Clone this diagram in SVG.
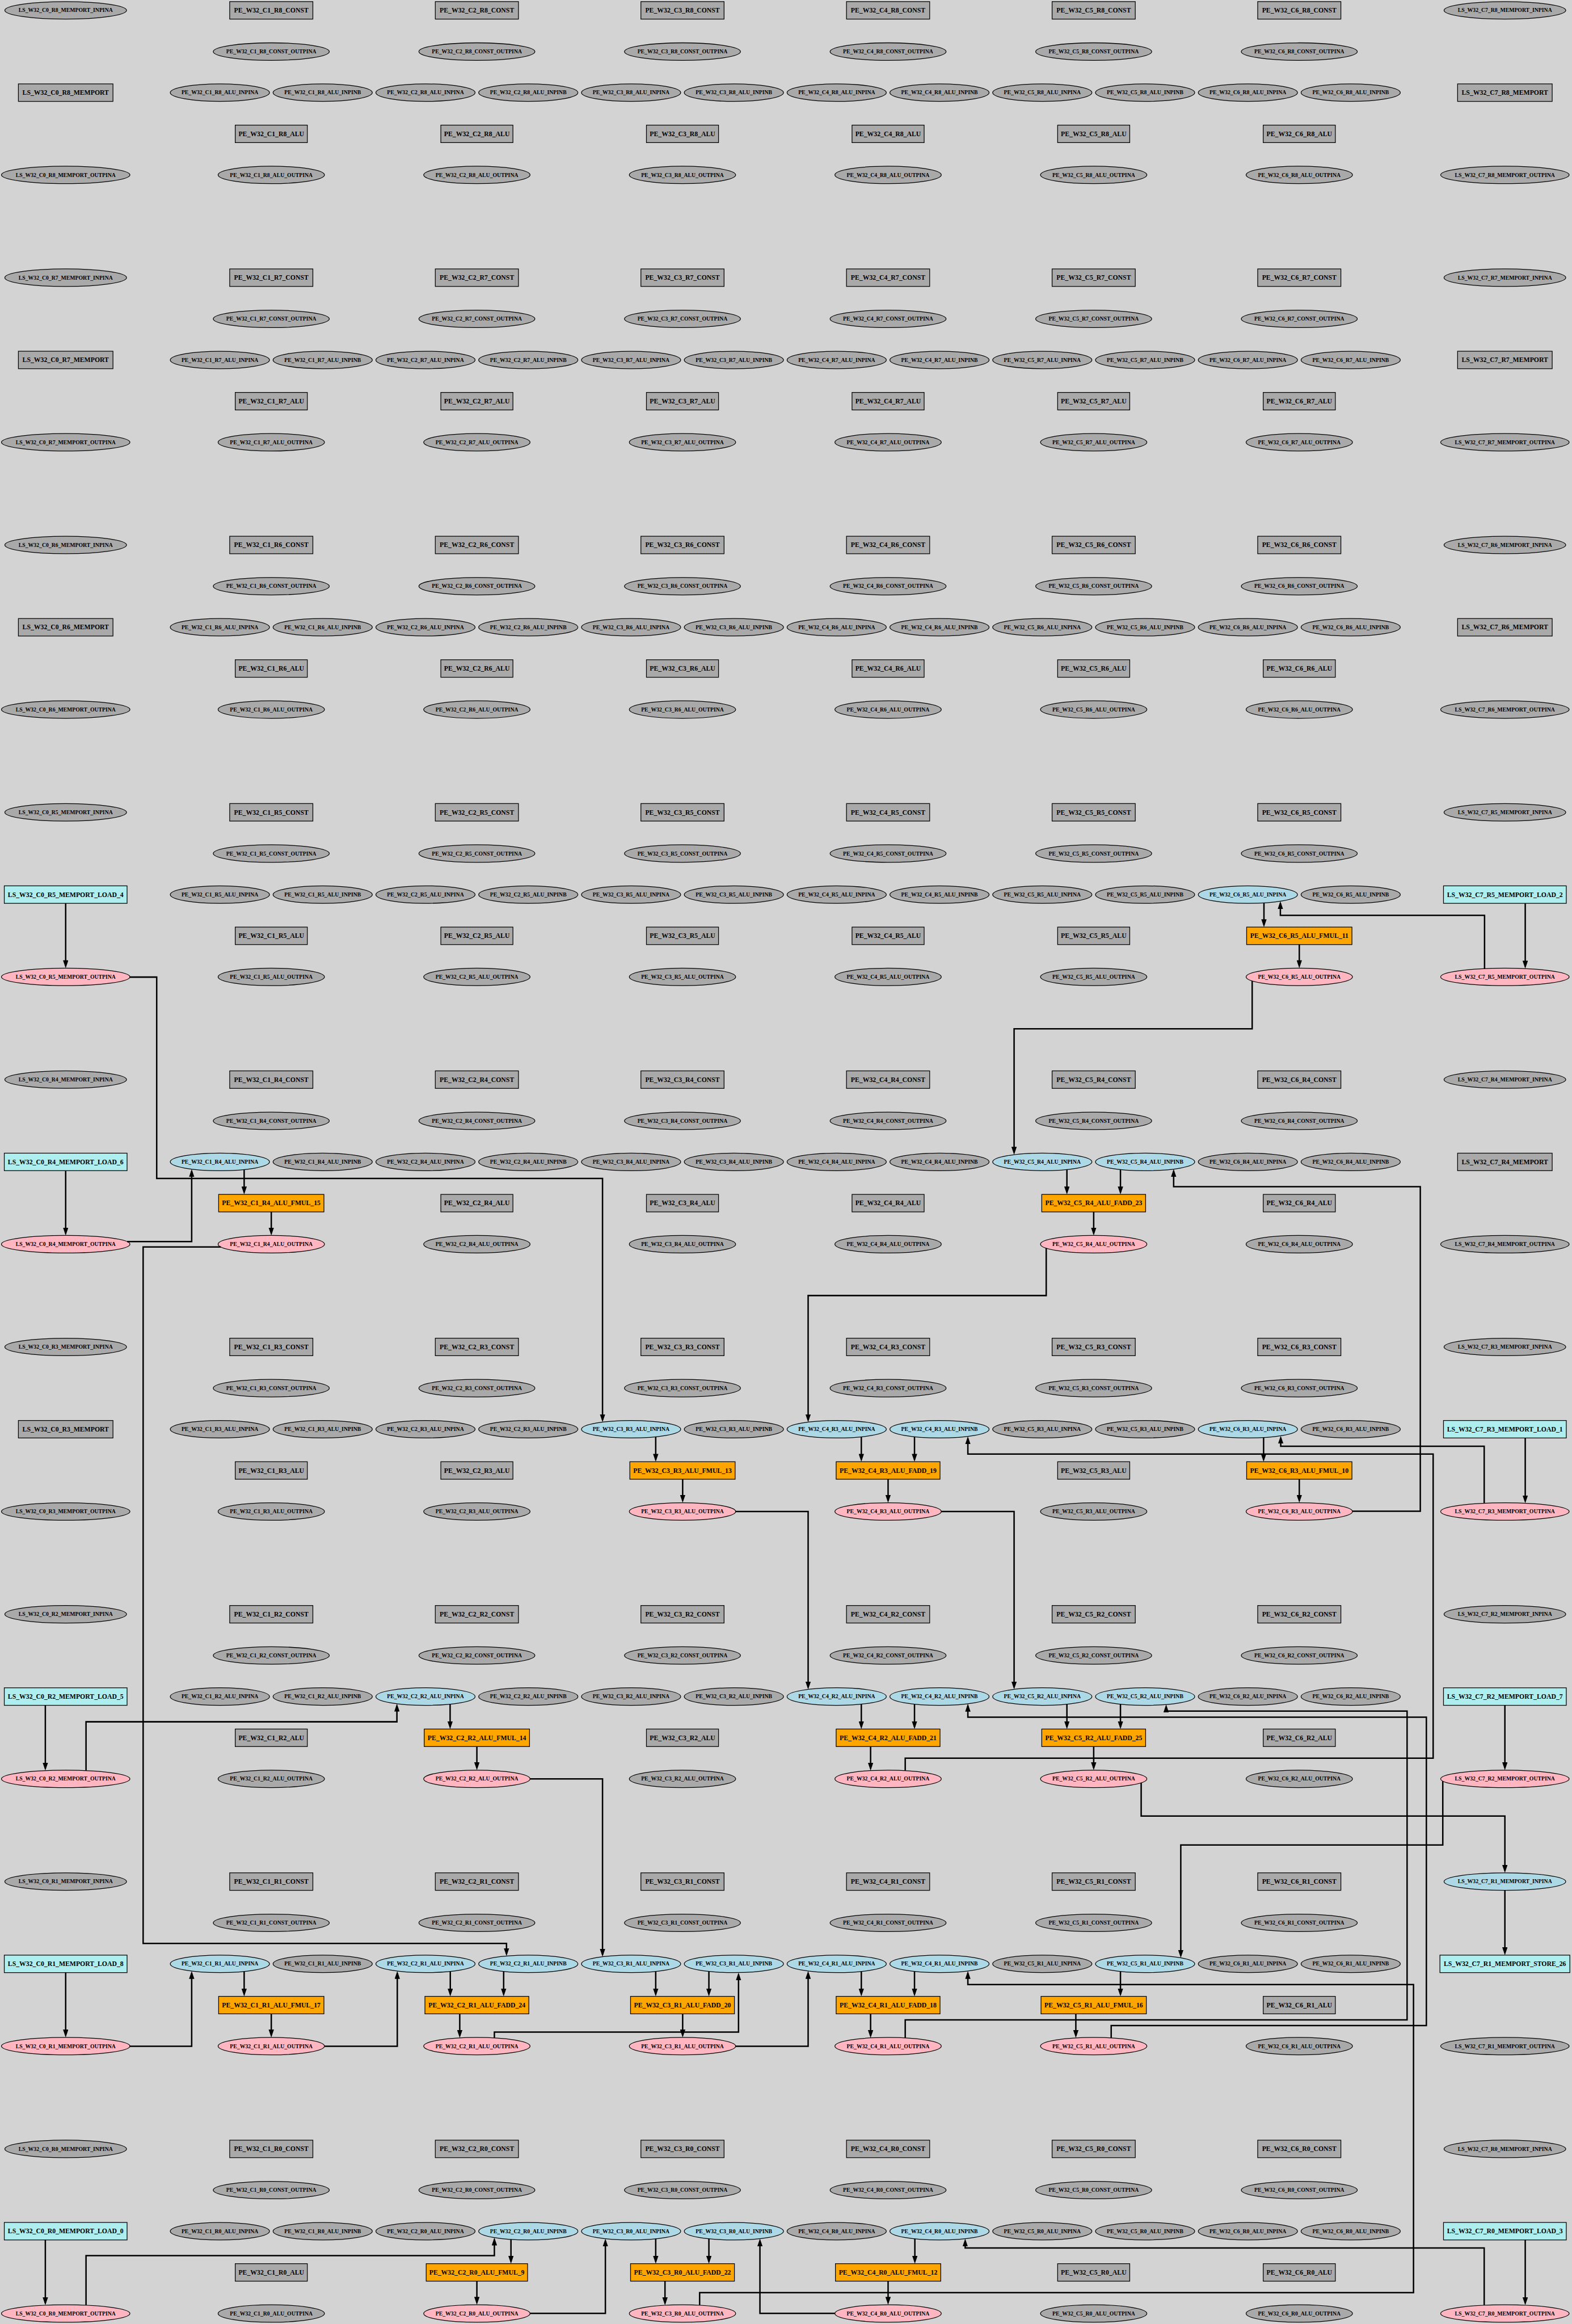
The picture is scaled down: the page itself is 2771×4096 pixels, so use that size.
<svg xmlns="http://www.w3.org/2000/svg" width="2771" height="4096" viewBox="0 0 2771 4096">
<style>
.bg{fill:#d3d3d3;stroke:none}
.g{fill:#a9a9a9}.b{fill:#add8e6}.p{fill:#ffb6c1}.o{fill:#ffa500}.c{fill:#afeeee}
rect,ellipse{stroke:#000;stroke-width:2}
text{font-family:"Liberation Serif","Times New Roman",serif;font-weight:bold;text-anchor:middle;fill:#000}
.t{font-size:18.7px}.s{font-size:15.5px}
.e{fill:none;stroke:#000;stroke-width:4;marker-end:url(#a)}
</style>
<defs>
<marker id="a" viewBox="0 0 22 15" refX="16" refY="7.5" markerWidth="22" markerHeight="15" markerUnits="userSpaceOnUse" orient="auto"><path d="M0,0L22,7.5L0,15z" fill="#000"/></marker>
</defs>
<rect class="bg" x="0" y="0" width="2771" height="4096"/>
<g transform="scale(0.6292)">
<g id="nodes">
<g id="R8" transform="translate(0,0)">
<g id="LS_W32_C0_R8_MEMPORT_INPINA"><ellipse class="g" cx="184" cy="29" rx="170.5" ry="24.5"/><text class="s" x="184" y="34.1">LS_W32_C0_R8_MEMPORT_INPINA</text></g>
<g id="PE_W32_C1_R8_CONST"><rect class="g" x="643.5" y="4.5" width="233" height="49"/><text class="t" x="760" y="35.2">PE_W32_C1_R8_CONST</text></g>
<g id="PE_W32_C2_R8_CONST"><rect class="g" x="1219.5" y="4.5" width="233" height="49"/><text class="t" x="1336" y="35.2">PE_W32_C2_R8_CONST</text></g>
<g id="PE_W32_C3_R8_CONST"><rect class="g" x="1795.5" y="4.5" width="233" height="49"/><text class="t" x="1912" y="35.2">PE_W32_C3_R8_CONST</text></g>
<g id="PE_W32_C4_R8_CONST"><rect class="g" x="2371.5" y="4.5" width="233" height="49"/><text class="t" x="2488" y="35.2">PE_W32_C4_R8_CONST</text></g>
<g id="PE_W32_C5_R8_CONST"><rect class="g" x="2947.5" y="4.5" width="233" height="49"/><text class="t" x="3064" y="35.2">PE_W32_C5_R8_CONST</text></g>
<g id="PE_W32_C6_R8_CONST"><rect class="g" x="3523.5" y="4.5" width="233" height="49"/><text class="t" x="3640" y="35.2">PE_W32_C6_R8_CONST</text></g>
<g id="LS_W32_C7_R8_MEMPORT_INPINA"><ellipse class="g" cx="4216" cy="29" rx="170.5" ry="24.5"/><text class="s" x="4216" y="34.1">LS_W32_C7_R8_MEMPORT_INPINA</text></g>
<g id="PE_W32_C1_R8_CONST_OUTPINA"><ellipse class="g" cx="760" cy="144.5" rx="162.5" ry="24.5"/><text class="s" x="760" y="149.6">PE_W32_C1_R8_CONST_OUTPINA</text></g>
<g id="PE_W32_C2_R8_CONST_OUTPINA"><ellipse class="g" cx="1336" cy="144.5" rx="162.5" ry="24.5"/><text class="s" x="1336" y="149.6">PE_W32_C2_R8_CONST_OUTPINA</text></g>
<g id="PE_W32_C3_R8_CONST_OUTPINA"><ellipse class="g" cx="1912" cy="144.5" rx="162.5" ry="24.5"/><text class="s" x="1912" y="149.6">PE_W32_C3_R8_CONST_OUTPINA</text></g>
<g id="PE_W32_C4_R8_CONST_OUTPINA"><ellipse class="g" cx="2488" cy="144.5" rx="162.5" ry="24.5"/><text class="s" x="2488" y="149.6">PE_W32_C4_R8_CONST_OUTPINA</text></g>
<g id="PE_W32_C5_R8_CONST_OUTPINA"><ellipse class="g" cx="3064" cy="144.5" rx="162.5" ry="24.5"/><text class="s" x="3064" y="149.6">PE_W32_C5_R8_CONST_OUTPINA</text></g>
<g id="PE_W32_C6_R8_CONST_OUTPINA"><ellipse class="g" cx="3640" cy="144.5" rx="162.5" ry="24.5"/><text class="s" x="3640" y="149.6">PE_W32_C6_R8_CONST_OUTPINA</text></g>
<g id="LS_W32_C0_R8_MEMPORT"><rect class="g" x="51.5" y="235" width="265" height="49"/><text class="t" x="184" y="265.7">LS_W32_C0_R8_MEMPORT</text></g>
<g id="PE_W32_C1_R8_ALU_INPINA"><ellipse class="g" cx="616" cy="259.5" rx="139" ry="24.5"/><text class="s" x="616" y="264.6">PE_W32_C1_R8_ALU_INPINA</text></g>
<g id="PE_W32_C1_R8_ALU_INPINB"><ellipse class="g" cx="904" cy="259.5" rx="139" ry="24.5"/><text class="s" x="904" y="264.6">PE_W32_C1_R8_ALU_INPINB</text></g>
<g id="PE_W32_C2_R8_ALU_INPINA"><ellipse class="g" cx="1192" cy="259.5" rx="139" ry="24.5"/><text class="s" x="1192" y="264.6">PE_W32_C2_R8_ALU_INPINA</text></g>
<g id="PE_W32_C2_R8_ALU_INPINB"><ellipse class="g" cx="1480" cy="259.5" rx="139" ry="24.5"/><text class="s" x="1480" y="264.6">PE_W32_C2_R8_ALU_INPINB</text></g>
<g id="PE_W32_C3_R8_ALU_INPINA"><ellipse class="g" cx="1768" cy="259.5" rx="139" ry="24.5"/><text class="s" x="1768" y="264.6">PE_W32_C3_R8_ALU_INPINA</text></g>
<g id="PE_W32_C3_R8_ALU_INPINB"><ellipse class="g" cx="2056" cy="259.5" rx="139" ry="24.5"/><text class="s" x="2056" y="264.6">PE_W32_C3_R8_ALU_INPINB</text></g>
<g id="PE_W32_C4_R8_ALU_INPINA"><ellipse class="g" cx="2344" cy="259.5" rx="139" ry="24.5"/><text class="s" x="2344" y="264.6">PE_W32_C4_R8_ALU_INPINA</text></g>
<g id="PE_W32_C4_R8_ALU_INPINB"><ellipse class="g" cx="2632" cy="259.5" rx="139" ry="24.5"/><text class="s" x="2632" y="264.6">PE_W32_C4_R8_ALU_INPINB</text></g>
<g id="PE_W32_C5_R8_ALU_INPINA"><ellipse class="g" cx="2920" cy="259.5" rx="139" ry="24.5"/><text class="s" x="2920" y="264.6">PE_W32_C5_R8_ALU_INPINA</text></g>
<g id="PE_W32_C5_R8_ALU_INPINB"><ellipse class="g" cx="3208" cy="259.5" rx="139" ry="24.5"/><text class="s" x="3208" y="264.6">PE_W32_C5_R8_ALU_INPINB</text></g>
<g id="PE_W32_C6_R8_ALU_INPINA"><ellipse class="g" cx="3496" cy="259.5" rx="139" ry="24.5"/><text class="s" x="3496" y="264.6">PE_W32_C6_R8_ALU_INPINA</text></g>
<g id="PE_W32_C6_R8_ALU_INPINB"><ellipse class="g" cx="3784" cy="259.5" rx="139" ry="24.5"/><text class="s" x="3784" y="264.6">PE_W32_C6_R8_ALU_INPINB</text></g>
<g id="LS_W32_C7_R8_MEMPORT"><rect class="g" x="4083.5" y="235" width="265" height="49"/><text class="t" x="4216" y="265.7">LS_W32_C7_R8_MEMPORT</text></g>
<g id="PE_W32_C1_R8_ALU"><rect class="g" x="659" y="350.5" width="202" height="49"/><text class="t" x="760" y="381.2">PE_W32_C1_R8_ALU</text></g>
<g id="PE_W32_C2_R8_ALU"><rect class="g" x="1235" y="350.5" width="202" height="49"/><text class="t" x="1336" y="381.2">PE_W32_C2_R8_ALU</text></g>
<g id="PE_W32_C3_R8_ALU"><rect class="g" x="1811" y="350.5" width="202" height="49"/><text class="t" x="1912" y="381.2">PE_W32_C3_R8_ALU</text></g>
<g id="PE_W32_C4_R8_ALU"><rect class="g" x="2387" y="350.5" width="202" height="49"/><text class="t" x="2488" y="381.2">PE_W32_C4_R8_ALU</text></g>
<g id="PE_W32_C5_R8_ALU"><rect class="g" x="2963" y="350.5" width="202" height="49"/><text class="t" x="3064" y="381.2">PE_W32_C5_R8_ALU</text></g>
<g id="PE_W32_C6_R8_ALU"><rect class="g" x="3539" y="350.5" width="202" height="49"/><text class="t" x="3640" y="381.2">PE_W32_C6_R8_ALU</text></g>
<g id="LS_W32_C0_R8_MEMPORT_OUTPINA"><ellipse class="g" cx="184" cy="490" rx="180" ry="24.5"/><text class="s" x="184" y="495.1">LS_W32_C0_R8_MEMPORT_OUTPINA</text></g>
<g id="PE_W32_C1_R8_ALU_OUTPINA"><ellipse class="g" cx="760" cy="490" rx="149" ry="24.5"/><text class="s" x="760" y="495.1">PE_W32_C1_R8_ALU_OUTPINA</text></g>
<g id="PE_W32_C2_R8_ALU_OUTPINA"><ellipse class="g" cx="1336" cy="490" rx="149" ry="24.5"/><text class="s" x="1336" y="495.1">PE_W32_C2_R8_ALU_OUTPINA</text></g>
<g id="PE_W32_C3_R8_ALU_OUTPINA"><ellipse class="g" cx="1912" cy="490" rx="149" ry="24.5"/><text class="s" x="1912" y="495.1">PE_W32_C3_R8_ALU_OUTPINA</text></g>
<g id="PE_W32_C4_R8_ALU_OUTPINA"><ellipse class="g" cx="2488" cy="490" rx="149" ry="24.5"/><text class="s" x="2488" y="495.1">PE_W32_C4_R8_ALU_OUTPINA</text></g>
<g id="PE_W32_C5_R8_ALU_OUTPINA"><ellipse class="g" cx="3064" cy="490" rx="149" ry="24.5"/><text class="s" x="3064" y="495.1">PE_W32_C5_R8_ALU_OUTPINA</text></g>
<g id="PE_W32_C6_R8_ALU_OUTPINA"><ellipse class="g" cx="3640" cy="490" rx="149" ry="24.5"/><text class="s" x="3640" y="495.1">PE_W32_C6_R8_ALU_OUTPINA</text></g>
<g id="LS_W32_C7_R8_MEMPORT_OUTPINA"><ellipse class="g" cx="4216" cy="490" rx="180" ry="24.5"/><text class="s" x="4216" y="495.1">LS_W32_C7_R8_MEMPORT_OUTPINA</text></g>
</g>
<g id="R7" transform="translate(0,748.8)">
<g id="LS_W32_C0_R7_MEMPORT_INPINA"><ellipse class="g" cx="184" cy="29" rx="170.5" ry="24.5"/><text class="s" x="184" y="34.1">LS_W32_C0_R7_MEMPORT_INPINA</text></g>
<g id="PE_W32_C1_R7_CONST"><rect class="g" x="643.5" y="4.5" width="233" height="49"/><text class="t" x="760" y="35.2">PE_W32_C1_R7_CONST</text></g>
<g id="PE_W32_C2_R7_CONST"><rect class="g" x="1219.5" y="4.5" width="233" height="49"/><text class="t" x="1336" y="35.2">PE_W32_C2_R7_CONST</text></g>
<g id="PE_W32_C3_R7_CONST"><rect class="g" x="1795.5" y="4.5" width="233" height="49"/><text class="t" x="1912" y="35.2">PE_W32_C3_R7_CONST</text></g>
<g id="PE_W32_C4_R7_CONST"><rect class="g" x="2371.5" y="4.5" width="233" height="49"/><text class="t" x="2488" y="35.2">PE_W32_C4_R7_CONST</text></g>
<g id="PE_W32_C5_R7_CONST"><rect class="g" x="2947.5" y="4.5" width="233" height="49"/><text class="t" x="3064" y="35.2">PE_W32_C5_R7_CONST</text></g>
<g id="PE_W32_C6_R7_CONST"><rect class="g" x="3523.5" y="4.5" width="233" height="49"/><text class="t" x="3640" y="35.2">PE_W32_C6_R7_CONST</text></g>
<g id="LS_W32_C7_R7_MEMPORT_INPINA"><ellipse class="g" cx="4216" cy="29" rx="170.5" ry="24.5"/><text class="s" x="4216" y="34.1">LS_W32_C7_R7_MEMPORT_INPINA</text></g>
<g id="PE_W32_C1_R7_CONST_OUTPINA"><ellipse class="g" cx="760" cy="144.5" rx="162.5" ry="24.5"/><text class="s" x="760" y="149.6">PE_W32_C1_R7_CONST_OUTPINA</text></g>
<g id="PE_W32_C2_R7_CONST_OUTPINA"><ellipse class="g" cx="1336" cy="144.5" rx="162.5" ry="24.5"/><text class="s" x="1336" y="149.6">PE_W32_C2_R7_CONST_OUTPINA</text></g>
<g id="PE_W32_C3_R7_CONST_OUTPINA"><ellipse class="g" cx="1912" cy="144.5" rx="162.5" ry="24.5"/><text class="s" x="1912" y="149.6">PE_W32_C3_R7_CONST_OUTPINA</text></g>
<g id="PE_W32_C4_R7_CONST_OUTPINA"><ellipse class="g" cx="2488" cy="144.5" rx="162.5" ry="24.5"/><text class="s" x="2488" y="149.6">PE_W32_C4_R7_CONST_OUTPINA</text></g>
<g id="PE_W32_C5_R7_CONST_OUTPINA"><ellipse class="g" cx="3064" cy="144.5" rx="162.5" ry="24.5"/><text class="s" x="3064" y="149.6">PE_W32_C5_R7_CONST_OUTPINA</text></g>
<g id="PE_W32_C6_R7_CONST_OUTPINA"><ellipse class="g" cx="3640" cy="144.5" rx="162.5" ry="24.5"/><text class="s" x="3640" y="149.6">PE_W32_C6_R7_CONST_OUTPINA</text></g>
<g id="LS_W32_C0_R7_MEMPORT"><rect class="g" x="51.5" y="235" width="265" height="49"/><text class="t" x="184" y="265.7">LS_W32_C0_R7_MEMPORT</text></g>
<g id="PE_W32_C1_R7_ALU_INPINA"><ellipse class="g" cx="616" cy="259.5" rx="139" ry="24.5"/><text class="s" x="616" y="264.6">PE_W32_C1_R7_ALU_INPINA</text></g>
<g id="PE_W32_C1_R7_ALU_INPINB"><ellipse class="g" cx="904" cy="259.5" rx="139" ry="24.5"/><text class="s" x="904" y="264.6">PE_W32_C1_R7_ALU_INPINB</text></g>
<g id="PE_W32_C2_R7_ALU_INPINA"><ellipse class="g" cx="1192" cy="259.5" rx="139" ry="24.5"/><text class="s" x="1192" y="264.6">PE_W32_C2_R7_ALU_INPINA</text></g>
<g id="PE_W32_C2_R7_ALU_INPINB"><ellipse class="g" cx="1480" cy="259.5" rx="139" ry="24.5"/><text class="s" x="1480" y="264.6">PE_W32_C2_R7_ALU_INPINB</text></g>
<g id="PE_W32_C3_R7_ALU_INPINA"><ellipse class="g" cx="1768" cy="259.5" rx="139" ry="24.5"/><text class="s" x="1768" y="264.6">PE_W32_C3_R7_ALU_INPINA</text></g>
<g id="PE_W32_C3_R7_ALU_INPINB"><ellipse class="g" cx="2056" cy="259.5" rx="139" ry="24.5"/><text class="s" x="2056" y="264.6">PE_W32_C3_R7_ALU_INPINB</text></g>
<g id="PE_W32_C4_R7_ALU_INPINA"><ellipse class="g" cx="2344" cy="259.5" rx="139" ry="24.5"/><text class="s" x="2344" y="264.6">PE_W32_C4_R7_ALU_INPINA</text></g>
<g id="PE_W32_C4_R7_ALU_INPINB"><ellipse class="g" cx="2632" cy="259.5" rx="139" ry="24.5"/><text class="s" x="2632" y="264.6">PE_W32_C4_R7_ALU_INPINB</text></g>
<g id="PE_W32_C5_R7_ALU_INPINA"><ellipse class="g" cx="2920" cy="259.5" rx="139" ry="24.5"/><text class="s" x="2920" y="264.6">PE_W32_C5_R7_ALU_INPINA</text></g>
<g id="PE_W32_C5_R7_ALU_INPINB"><ellipse class="g" cx="3208" cy="259.5" rx="139" ry="24.5"/><text class="s" x="3208" y="264.6">PE_W32_C5_R7_ALU_INPINB</text></g>
<g id="PE_W32_C6_R7_ALU_INPINA"><ellipse class="g" cx="3496" cy="259.5" rx="139" ry="24.5"/><text class="s" x="3496" y="264.6">PE_W32_C6_R7_ALU_INPINA</text></g>
<g id="PE_W32_C6_R7_ALU_INPINB"><ellipse class="g" cx="3784" cy="259.5" rx="139" ry="24.5"/><text class="s" x="3784" y="264.6">PE_W32_C6_R7_ALU_INPINB</text></g>
<g id="LS_W32_C7_R7_MEMPORT"><rect class="g" x="4083.5" y="235" width="265" height="49"/><text class="t" x="4216" y="265.7">LS_W32_C7_R7_MEMPORT</text></g>
<g id="PE_W32_C1_R7_ALU"><rect class="g" x="659" y="350.5" width="202" height="49"/><text class="t" x="760" y="381.2">PE_W32_C1_R7_ALU</text></g>
<g id="PE_W32_C2_R7_ALU"><rect class="g" x="1235" y="350.5" width="202" height="49"/><text class="t" x="1336" y="381.2">PE_W32_C2_R7_ALU</text></g>
<g id="PE_W32_C3_R7_ALU"><rect class="g" x="1811" y="350.5" width="202" height="49"/><text class="t" x="1912" y="381.2">PE_W32_C3_R7_ALU</text></g>
<g id="PE_W32_C4_R7_ALU"><rect class="g" x="2387" y="350.5" width="202" height="49"/><text class="t" x="2488" y="381.2">PE_W32_C4_R7_ALU</text></g>
<g id="PE_W32_C5_R7_ALU"><rect class="g" x="2963" y="350.5" width="202" height="49"/><text class="t" x="3064" y="381.2">PE_W32_C5_R7_ALU</text></g>
<g id="PE_W32_C6_R7_ALU"><rect class="g" x="3539" y="350.5" width="202" height="49"/><text class="t" x="3640" y="381.2">PE_W32_C6_R7_ALU</text></g>
<g id="LS_W32_C0_R7_MEMPORT_OUTPINA"><ellipse class="g" cx="184" cy="490" rx="180" ry="24.5"/><text class="s" x="184" y="495.1">LS_W32_C0_R7_MEMPORT_OUTPINA</text></g>
<g id="PE_W32_C1_R7_ALU_OUTPINA"><ellipse class="g" cx="760" cy="490" rx="149" ry="24.5"/><text class="s" x="760" y="495.1">PE_W32_C1_R7_ALU_OUTPINA</text></g>
<g id="PE_W32_C2_R7_ALU_OUTPINA"><ellipse class="g" cx="1336" cy="490" rx="149" ry="24.5"/><text class="s" x="1336" y="495.1">PE_W32_C2_R7_ALU_OUTPINA</text></g>
<g id="PE_W32_C3_R7_ALU_OUTPINA"><ellipse class="g" cx="1912" cy="490" rx="149" ry="24.5"/><text class="s" x="1912" y="495.1">PE_W32_C3_R7_ALU_OUTPINA</text></g>
<g id="PE_W32_C4_R7_ALU_OUTPINA"><ellipse class="g" cx="2488" cy="490" rx="149" ry="24.5"/><text class="s" x="2488" y="495.1">PE_W32_C4_R7_ALU_OUTPINA</text></g>
<g id="PE_W32_C5_R7_ALU_OUTPINA"><ellipse class="g" cx="3064" cy="490" rx="149" ry="24.5"/><text class="s" x="3064" y="495.1">PE_W32_C5_R7_ALU_OUTPINA</text></g>
<g id="PE_W32_C6_R7_ALU_OUTPINA"><ellipse class="g" cx="3640" cy="490" rx="149" ry="24.5"/><text class="s" x="3640" y="495.1">PE_W32_C6_R7_ALU_OUTPINA</text></g>
<g id="LS_W32_C7_R7_MEMPORT_OUTPINA"><ellipse class="g" cx="4216" cy="490" rx="180" ry="24.5"/><text class="s" x="4216" y="495.1">LS_W32_C7_R7_MEMPORT_OUTPINA</text></g>
</g>
<g id="R6" transform="translate(0,1497.6)">
<g id="LS_W32_C0_R6_MEMPORT_INPINA"><ellipse class="g" cx="184" cy="29" rx="170.5" ry="24.5"/><text class="s" x="184" y="34.1">LS_W32_C0_R6_MEMPORT_INPINA</text></g>
<g id="PE_W32_C1_R6_CONST"><rect class="g" x="643.5" y="4.5" width="233" height="49"/><text class="t" x="760" y="35.2">PE_W32_C1_R6_CONST</text></g>
<g id="PE_W32_C2_R6_CONST"><rect class="g" x="1219.5" y="4.5" width="233" height="49"/><text class="t" x="1336" y="35.2">PE_W32_C2_R6_CONST</text></g>
<g id="PE_W32_C3_R6_CONST"><rect class="g" x="1795.5" y="4.5" width="233" height="49"/><text class="t" x="1912" y="35.2">PE_W32_C3_R6_CONST</text></g>
<g id="PE_W32_C4_R6_CONST"><rect class="g" x="2371.5" y="4.5" width="233" height="49"/><text class="t" x="2488" y="35.2">PE_W32_C4_R6_CONST</text></g>
<g id="PE_W32_C5_R6_CONST"><rect class="g" x="2947.5" y="4.5" width="233" height="49"/><text class="t" x="3064" y="35.2">PE_W32_C5_R6_CONST</text></g>
<g id="PE_W32_C6_R6_CONST"><rect class="g" x="3523.5" y="4.5" width="233" height="49"/><text class="t" x="3640" y="35.2">PE_W32_C6_R6_CONST</text></g>
<g id="LS_W32_C7_R6_MEMPORT_INPINA"><ellipse class="g" cx="4216" cy="29" rx="170.5" ry="24.5"/><text class="s" x="4216" y="34.1">LS_W32_C7_R6_MEMPORT_INPINA</text></g>
<g id="PE_W32_C1_R6_CONST_OUTPINA"><ellipse class="g" cx="760" cy="144.5" rx="162.5" ry="24.5"/><text class="s" x="760" y="149.6">PE_W32_C1_R6_CONST_OUTPINA</text></g>
<g id="PE_W32_C2_R6_CONST_OUTPINA"><ellipse class="g" cx="1336" cy="144.5" rx="162.5" ry="24.5"/><text class="s" x="1336" y="149.6">PE_W32_C2_R6_CONST_OUTPINA</text></g>
<g id="PE_W32_C3_R6_CONST_OUTPINA"><ellipse class="g" cx="1912" cy="144.5" rx="162.5" ry="24.5"/><text class="s" x="1912" y="149.6">PE_W32_C3_R6_CONST_OUTPINA</text></g>
<g id="PE_W32_C4_R6_CONST_OUTPINA"><ellipse class="g" cx="2488" cy="144.5" rx="162.5" ry="24.5"/><text class="s" x="2488" y="149.6">PE_W32_C4_R6_CONST_OUTPINA</text></g>
<g id="PE_W32_C5_R6_CONST_OUTPINA"><ellipse class="g" cx="3064" cy="144.5" rx="162.5" ry="24.5"/><text class="s" x="3064" y="149.6">PE_W32_C5_R6_CONST_OUTPINA</text></g>
<g id="PE_W32_C6_R6_CONST_OUTPINA"><ellipse class="g" cx="3640" cy="144.5" rx="162.5" ry="24.5"/><text class="s" x="3640" y="149.6">PE_W32_C6_R6_CONST_OUTPINA</text></g>
<g id="LS_W32_C0_R6_MEMPORT"><rect class="g" x="51.5" y="235" width="265" height="49"/><text class="t" x="184" y="265.7">LS_W32_C0_R6_MEMPORT</text></g>
<g id="PE_W32_C1_R6_ALU_INPINA"><ellipse class="g" cx="616" cy="259.5" rx="139" ry="24.5"/><text class="s" x="616" y="264.6">PE_W32_C1_R6_ALU_INPINA</text></g>
<g id="PE_W32_C1_R6_ALU_INPINB"><ellipse class="g" cx="904" cy="259.5" rx="139" ry="24.5"/><text class="s" x="904" y="264.6">PE_W32_C1_R6_ALU_INPINB</text></g>
<g id="PE_W32_C2_R6_ALU_INPINA"><ellipse class="g" cx="1192" cy="259.5" rx="139" ry="24.5"/><text class="s" x="1192" y="264.6">PE_W32_C2_R6_ALU_INPINA</text></g>
<g id="PE_W32_C2_R6_ALU_INPINB"><ellipse class="g" cx="1480" cy="259.5" rx="139" ry="24.5"/><text class="s" x="1480" y="264.6">PE_W32_C2_R6_ALU_INPINB</text></g>
<g id="PE_W32_C3_R6_ALU_INPINA"><ellipse class="g" cx="1768" cy="259.5" rx="139" ry="24.5"/><text class="s" x="1768" y="264.6">PE_W32_C3_R6_ALU_INPINA</text></g>
<g id="PE_W32_C3_R6_ALU_INPINB"><ellipse class="g" cx="2056" cy="259.5" rx="139" ry="24.5"/><text class="s" x="2056" y="264.6">PE_W32_C3_R6_ALU_INPINB</text></g>
<g id="PE_W32_C4_R6_ALU_INPINA"><ellipse class="g" cx="2344" cy="259.5" rx="139" ry="24.5"/><text class="s" x="2344" y="264.6">PE_W32_C4_R6_ALU_INPINA</text></g>
<g id="PE_W32_C4_R6_ALU_INPINB"><ellipse class="g" cx="2632" cy="259.5" rx="139" ry="24.5"/><text class="s" x="2632" y="264.6">PE_W32_C4_R6_ALU_INPINB</text></g>
<g id="PE_W32_C5_R6_ALU_INPINA"><ellipse class="g" cx="2920" cy="259.5" rx="139" ry="24.5"/><text class="s" x="2920" y="264.6">PE_W32_C5_R6_ALU_INPINA</text></g>
<g id="PE_W32_C5_R6_ALU_INPINB"><ellipse class="g" cx="3208" cy="259.5" rx="139" ry="24.5"/><text class="s" x="3208" y="264.6">PE_W32_C5_R6_ALU_INPINB</text></g>
<g id="PE_W32_C6_R6_ALU_INPINA"><ellipse class="g" cx="3496" cy="259.5" rx="139" ry="24.5"/><text class="s" x="3496" y="264.6">PE_W32_C6_R6_ALU_INPINA</text></g>
<g id="PE_W32_C6_R6_ALU_INPINB"><ellipse class="g" cx="3784" cy="259.5" rx="139" ry="24.5"/><text class="s" x="3784" y="264.6">PE_W32_C6_R6_ALU_INPINB</text></g>
<g id="LS_W32_C7_R6_MEMPORT"><rect class="g" x="4083.5" y="235" width="265" height="49"/><text class="t" x="4216" y="265.7">LS_W32_C7_R6_MEMPORT</text></g>
<g id="PE_W32_C1_R6_ALU"><rect class="g" x="659" y="350.5" width="202" height="49"/><text class="t" x="760" y="381.2">PE_W32_C1_R6_ALU</text></g>
<g id="PE_W32_C2_R6_ALU"><rect class="g" x="1235" y="350.5" width="202" height="49"/><text class="t" x="1336" y="381.2">PE_W32_C2_R6_ALU</text></g>
<g id="PE_W32_C3_R6_ALU"><rect class="g" x="1811" y="350.5" width="202" height="49"/><text class="t" x="1912" y="381.2">PE_W32_C3_R6_ALU</text></g>
<g id="PE_W32_C4_R6_ALU"><rect class="g" x="2387" y="350.5" width="202" height="49"/><text class="t" x="2488" y="381.2">PE_W32_C4_R6_ALU</text></g>
<g id="PE_W32_C5_R6_ALU"><rect class="g" x="2963" y="350.5" width="202" height="49"/><text class="t" x="3064" y="381.2">PE_W32_C5_R6_ALU</text></g>
<g id="PE_W32_C6_R6_ALU"><rect class="g" x="3539" y="350.5" width="202" height="49"/><text class="t" x="3640" y="381.2">PE_W32_C6_R6_ALU</text></g>
<g id="LS_W32_C0_R6_MEMPORT_OUTPINA"><ellipse class="g" cx="184" cy="490" rx="180" ry="24.5"/><text class="s" x="184" y="495.1">LS_W32_C0_R6_MEMPORT_OUTPINA</text></g>
<g id="PE_W32_C1_R6_ALU_OUTPINA"><ellipse class="g" cx="760" cy="490" rx="149" ry="24.5"/><text class="s" x="760" y="495.1">PE_W32_C1_R6_ALU_OUTPINA</text></g>
<g id="PE_W32_C2_R6_ALU_OUTPINA"><ellipse class="g" cx="1336" cy="490" rx="149" ry="24.5"/><text class="s" x="1336" y="495.1">PE_W32_C2_R6_ALU_OUTPINA</text></g>
<g id="PE_W32_C3_R6_ALU_OUTPINA"><ellipse class="g" cx="1912" cy="490" rx="149" ry="24.5"/><text class="s" x="1912" y="495.1">PE_W32_C3_R6_ALU_OUTPINA</text></g>
<g id="PE_W32_C4_R6_ALU_OUTPINA"><ellipse class="g" cx="2488" cy="490" rx="149" ry="24.5"/><text class="s" x="2488" y="495.1">PE_W32_C4_R6_ALU_OUTPINA</text></g>
<g id="PE_W32_C5_R6_ALU_OUTPINA"><ellipse class="g" cx="3064" cy="490" rx="149" ry="24.5"/><text class="s" x="3064" y="495.1">PE_W32_C5_R6_ALU_OUTPINA</text></g>
<g id="PE_W32_C6_R6_ALU_OUTPINA"><ellipse class="g" cx="3640" cy="490" rx="149" ry="24.5"/><text class="s" x="3640" y="495.1">PE_W32_C6_R6_ALU_OUTPINA</text></g>
<g id="LS_W32_C7_R6_MEMPORT_OUTPINA"><ellipse class="g" cx="4216" cy="490" rx="180" ry="24.5"/><text class="s" x="4216" y="495.1">LS_W32_C7_R6_MEMPORT_OUTPINA</text></g>
</g>
<g id="R5" transform="translate(0,2246.4)">
<g id="LS_W32_C0_R5_MEMPORT_INPINA"><ellipse class="g" cx="184" cy="29" rx="170.5" ry="24.5"/><text class="s" x="184" y="34.1">LS_W32_C0_R5_MEMPORT_INPINA</text></g>
<g id="PE_W32_C1_R5_CONST"><rect class="g" x="643.5" y="4.5" width="233" height="49"/><text class="t" x="760" y="35.2">PE_W32_C1_R5_CONST</text></g>
<g id="PE_W32_C2_R5_CONST"><rect class="g" x="1219.5" y="4.5" width="233" height="49"/><text class="t" x="1336" y="35.2">PE_W32_C2_R5_CONST</text></g>
<g id="PE_W32_C3_R5_CONST"><rect class="g" x="1795.5" y="4.5" width="233" height="49"/><text class="t" x="1912" y="35.2">PE_W32_C3_R5_CONST</text></g>
<g id="PE_W32_C4_R5_CONST"><rect class="g" x="2371.5" y="4.5" width="233" height="49"/><text class="t" x="2488" y="35.2">PE_W32_C4_R5_CONST</text></g>
<g id="PE_W32_C5_R5_CONST"><rect class="g" x="2947.5" y="4.5" width="233" height="49"/><text class="t" x="3064" y="35.2">PE_W32_C5_R5_CONST</text></g>
<g id="PE_W32_C6_R5_CONST"><rect class="g" x="3523.5" y="4.5" width="233" height="49"/><text class="t" x="3640" y="35.2">PE_W32_C6_R5_CONST</text></g>
<g id="LS_W32_C7_R5_MEMPORT_INPINA"><ellipse class="g" cx="4216" cy="29" rx="170.5" ry="24.5"/><text class="s" x="4216" y="34.1">LS_W32_C7_R5_MEMPORT_INPINA</text></g>
<g id="PE_W32_C1_R5_CONST_OUTPINA"><ellipse class="g" cx="760" cy="144.5" rx="162.5" ry="24.5"/><text class="s" x="760" y="149.6">PE_W32_C1_R5_CONST_OUTPINA</text></g>
<g id="PE_W32_C2_R5_CONST_OUTPINA"><ellipse class="g" cx="1336" cy="144.5" rx="162.5" ry="24.5"/><text class="s" x="1336" y="149.6">PE_W32_C2_R5_CONST_OUTPINA</text></g>
<g id="PE_W32_C3_R5_CONST_OUTPINA"><ellipse class="g" cx="1912" cy="144.5" rx="162.5" ry="24.5"/><text class="s" x="1912" y="149.6">PE_W32_C3_R5_CONST_OUTPINA</text></g>
<g id="PE_W32_C4_R5_CONST_OUTPINA"><ellipse class="g" cx="2488" cy="144.5" rx="162.5" ry="24.5"/><text class="s" x="2488" y="149.6">PE_W32_C4_R5_CONST_OUTPINA</text></g>
<g id="PE_W32_C5_R5_CONST_OUTPINA"><ellipse class="g" cx="3064" cy="144.5" rx="162.5" ry="24.5"/><text class="s" x="3064" y="149.6">PE_W32_C5_R5_CONST_OUTPINA</text></g>
<g id="PE_W32_C6_R5_CONST_OUTPINA"><ellipse class="g" cx="3640" cy="144.5" rx="162.5" ry="24.5"/><text class="s" x="3640" y="149.6">PE_W32_C6_R5_CONST_OUTPINA</text></g>
<g id="LS_W32_C0_R5_MEMPORT_LOAD_4"><rect class="c" x="12" y="235" width="344" height="49"/><text class="t" x="184" y="265.7">LS_W32_C0_R5_MEMPORT_LOAD_4</text></g>
<g id="PE_W32_C1_R5_ALU_INPINA"><ellipse class="g" cx="616" cy="259.5" rx="139" ry="24.5"/><text class="s" x="616" y="264.6">PE_W32_C1_R5_ALU_INPINA</text></g>
<g id="PE_W32_C1_R5_ALU_INPINB"><ellipse class="g" cx="904" cy="259.5" rx="139" ry="24.5"/><text class="s" x="904" y="264.6">PE_W32_C1_R5_ALU_INPINB</text></g>
<g id="PE_W32_C2_R5_ALU_INPINA"><ellipse class="g" cx="1192" cy="259.5" rx="139" ry="24.5"/><text class="s" x="1192" y="264.6">PE_W32_C2_R5_ALU_INPINA</text></g>
<g id="PE_W32_C2_R5_ALU_INPINB"><ellipse class="g" cx="1480" cy="259.5" rx="139" ry="24.5"/><text class="s" x="1480" y="264.6">PE_W32_C2_R5_ALU_INPINB</text></g>
<g id="PE_W32_C3_R5_ALU_INPINA"><ellipse class="g" cx="1768" cy="259.5" rx="139" ry="24.5"/><text class="s" x="1768" y="264.6">PE_W32_C3_R5_ALU_INPINA</text></g>
<g id="PE_W32_C3_R5_ALU_INPINB"><ellipse class="g" cx="2056" cy="259.5" rx="139" ry="24.5"/><text class="s" x="2056" y="264.6">PE_W32_C3_R5_ALU_INPINB</text></g>
<g id="PE_W32_C4_R5_ALU_INPINA"><ellipse class="g" cx="2344" cy="259.5" rx="139" ry="24.5"/><text class="s" x="2344" y="264.6">PE_W32_C4_R5_ALU_INPINA</text></g>
<g id="PE_W32_C4_R5_ALU_INPINB"><ellipse class="g" cx="2632" cy="259.5" rx="139" ry="24.5"/><text class="s" x="2632" y="264.6">PE_W32_C4_R5_ALU_INPINB</text></g>
<g id="PE_W32_C5_R5_ALU_INPINA"><ellipse class="g" cx="2920" cy="259.5" rx="139" ry="24.5"/><text class="s" x="2920" y="264.6">PE_W32_C5_R5_ALU_INPINA</text></g>
<g id="PE_W32_C5_R5_ALU_INPINB"><ellipse class="g" cx="3208" cy="259.5" rx="139" ry="24.5"/><text class="s" x="3208" y="264.6">PE_W32_C5_R5_ALU_INPINB</text></g>
<g id="PE_W32_C6_R5_ALU_INPINA"><ellipse class="b" cx="3496" cy="259.5" rx="139" ry="24.5"/><text class="s" x="3496" y="264.6">PE_W32_C6_R5_ALU_INPINA</text></g>
<g id="PE_W32_C6_R5_ALU_INPINB"><ellipse class="g" cx="3784" cy="259.5" rx="139" ry="24.5"/><text class="s" x="3784" y="264.6">PE_W32_C6_R5_ALU_INPINB</text></g>
<g id="LS_W32_C7_R5_MEMPORT_LOAD_2"><rect class="c" x="4044" y="235" width="344" height="49"/><text class="t" x="4216" y="265.7">LS_W32_C7_R5_MEMPORT_LOAD_2</text></g>
<g id="PE_W32_C1_R5_ALU"><rect class="g" x="659" y="350.5" width="202" height="49"/><text class="t" x="760" y="381.2">PE_W32_C1_R5_ALU</text></g>
<g id="PE_W32_C2_R5_ALU"><rect class="g" x="1235" y="350.5" width="202" height="49"/><text class="t" x="1336" y="381.2">PE_W32_C2_R5_ALU</text></g>
<g id="PE_W32_C3_R5_ALU"><rect class="g" x="1811" y="350.5" width="202" height="49"/><text class="t" x="1912" y="381.2">PE_W32_C3_R5_ALU</text></g>
<g id="PE_W32_C4_R5_ALU"><rect class="g" x="2387" y="350.5" width="202" height="49"/><text class="t" x="2488" y="381.2">PE_W32_C4_R5_ALU</text></g>
<g id="PE_W32_C5_R5_ALU"><rect class="g" x="2963" y="350.5" width="202" height="49"/><text class="t" x="3064" y="381.2">PE_W32_C5_R5_ALU</text></g>
<g id="PE_W32_C6_R5_ALU_FMUL_11"><rect class="o" x="3492.5" y="350.5" width="295" height="49"/><text class="t" x="3640" y="381.2">PE_W32_C6_R5_ALU_FMUL_11</text></g>
<g id="LS_W32_C0_R5_MEMPORT_OUTPINA"><ellipse class="p" cx="184" cy="490" rx="180" ry="24.5"/><text class="s" x="184" y="495.1">LS_W32_C0_R5_MEMPORT_OUTPINA</text></g>
<g id="PE_W32_C1_R5_ALU_OUTPINA"><ellipse class="g" cx="760" cy="490" rx="149" ry="24.5"/><text class="s" x="760" y="495.1">PE_W32_C1_R5_ALU_OUTPINA</text></g>
<g id="PE_W32_C2_R5_ALU_OUTPINA"><ellipse class="g" cx="1336" cy="490" rx="149" ry="24.5"/><text class="s" x="1336" y="495.1">PE_W32_C2_R5_ALU_OUTPINA</text></g>
<g id="PE_W32_C3_R5_ALU_OUTPINA"><ellipse class="g" cx="1912" cy="490" rx="149" ry="24.5"/><text class="s" x="1912" y="495.1">PE_W32_C3_R5_ALU_OUTPINA</text></g>
<g id="PE_W32_C4_R5_ALU_OUTPINA"><ellipse class="g" cx="2488" cy="490" rx="149" ry="24.5"/><text class="s" x="2488" y="495.1">PE_W32_C4_R5_ALU_OUTPINA</text></g>
<g id="PE_W32_C5_R5_ALU_OUTPINA"><ellipse class="g" cx="3064" cy="490" rx="149" ry="24.5"/><text class="s" x="3064" y="495.1">PE_W32_C5_R5_ALU_OUTPINA</text></g>
<g id="PE_W32_C6_R5_ALU_OUTPINA"><ellipse class="p" cx="3640" cy="490" rx="149" ry="24.5"/><text class="s" x="3640" y="495.1">PE_W32_C6_R5_ALU_OUTPINA</text></g>
<g id="LS_W32_C7_R5_MEMPORT_OUTPINA"><ellipse class="p" cx="4216" cy="490" rx="180" ry="24.5"/><text class="s" x="4216" y="495.1">LS_W32_C7_R5_MEMPORT_OUTPINA</text></g>
</g>
<g id="R4" transform="translate(0,2995.2)">
<g id="LS_W32_C0_R4_MEMPORT_INPINA"><ellipse class="g" cx="184" cy="29" rx="170.5" ry="24.5"/><text class="s" x="184" y="34.1">LS_W32_C0_R4_MEMPORT_INPINA</text></g>
<g id="PE_W32_C1_R4_CONST"><rect class="g" x="643.5" y="4.5" width="233" height="49"/><text class="t" x="760" y="35.2">PE_W32_C1_R4_CONST</text></g>
<g id="PE_W32_C2_R4_CONST"><rect class="g" x="1219.5" y="4.5" width="233" height="49"/><text class="t" x="1336" y="35.2">PE_W32_C2_R4_CONST</text></g>
<g id="PE_W32_C3_R4_CONST"><rect class="g" x="1795.5" y="4.5" width="233" height="49"/><text class="t" x="1912" y="35.2">PE_W32_C3_R4_CONST</text></g>
<g id="PE_W32_C4_R4_CONST"><rect class="g" x="2371.5" y="4.5" width="233" height="49"/><text class="t" x="2488" y="35.2">PE_W32_C4_R4_CONST</text></g>
<g id="PE_W32_C5_R4_CONST"><rect class="g" x="2947.5" y="4.5" width="233" height="49"/><text class="t" x="3064" y="35.2">PE_W32_C5_R4_CONST</text></g>
<g id="PE_W32_C6_R4_CONST"><rect class="g" x="3523.5" y="4.5" width="233" height="49"/><text class="t" x="3640" y="35.2">PE_W32_C6_R4_CONST</text></g>
<g id="LS_W32_C7_R4_MEMPORT_INPINA"><ellipse class="g" cx="4216" cy="29" rx="170.5" ry="24.5"/><text class="s" x="4216" y="34.1">LS_W32_C7_R4_MEMPORT_INPINA</text></g>
<g id="PE_W32_C1_R4_CONST_OUTPINA"><ellipse class="g" cx="760" cy="144.5" rx="162.5" ry="24.5"/><text class="s" x="760" y="149.6">PE_W32_C1_R4_CONST_OUTPINA</text></g>
<g id="PE_W32_C2_R4_CONST_OUTPINA"><ellipse class="g" cx="1336" cy="144.5" rx="162.5" ry="24.5"/><text class="s" x="1336" y="149.6">PE_W32_C2_R4_CONST_OUTPINA</text></g>
<g id="PE_W32_C3_R4_CONST_OUTPINA"><ellipse class="g" cx="1912" cy="144.5" rx="162.5" ry="24.5"/><text class="s" x="1912" y="149.6">PE_W32_C3_R4_CONST_OUTPINA</text></g>
<g id="PE_W32_C4_R4_CONST_OUTPINA"><ellipse class="g" cx="2488" cy="144.5" rx="162.5" ry="24.5"/><text class="s" x="2488" y="149.6">PE_W32_C4_R4_CONST_OUTPINA</text></g>
<g id="PE_W32_C5_R4_CONST_OUTPINA"><ellipse class="g" cx="3064" cy="144.5" rx="162.5" ry="24.5"/><text class="s" x="3064" y="149.6">PE_W32_C5_R4_CONST_OUTPINA</text></g>
<g id="PE_W32_C6_R4_CONST_OUTPINA"><ellipse class="g" cx="3640" cy="144.5" rx="162.5" ry="24.5"/><text class="s" x="3640" y="149.6">PE_W32_C6_R4_CONST_OUTPINA</text></g>
<g id="LS_W32_C0_R4_MEMPORT_LOAD_6"><rect class="c" x="12" y="235" width="344" height="49"/><text class="t" x="184" y="265.7">LS_W32_C0_R4_MEMPORT_LOAD_6</text></g>
<g id="PE_W32_C1_R4_ALU_INPINA"><ellipse class="b" cx="616" cy="259.5" rx="139" ry="24.5"/><text class="s" x="616" y="264.6">PE_W32_C1_R4_ALU_INPINA</text></g>
<g id="PE_W32_C1_R4_ALU_INPINB"><ellipse class="g" cx="904" cy="259.5" rx="139" ry="24.5"/><text class="s" x="904" y="264.6">PE_W32_C1_R4_ALU_INPINB</text></g>
<g id="PE_W32_C2_R4_ALU_INPINA"><ellipse class="g" cx="1192" cy="259.5" rx="139" ry="24.5"/><text class="s" x="1192" y="264.6">PE_W32_C2_R4_ALU_INPINA</text></g>
<g id="PE_W32_C2_R4_ALU_INPINB"><ellipse class="g" cx="1480" cy="259.5" rx="139" ry="24.5"/><text class="s" x="1480" y="264.6">PE_W32_C2_R4_ALU_INPINB</text></g>
<g id="PE_W32_C3_R4_ALU_INPINA"><ellipse class="g" cx="1768" cy="259.5" rx="139" ry="24.5"/><text class="s" x="1768" y="264.6">PE_W32_C3_R4_ALU_INPINA</text></g>
<g id="PE_W32_C3_R4_ALU_INPINB"><ellipse class="g" cx="2056" cy="259.5" rx="139" ry="24.5"/><text class="s" x="2056" y="264.6">PE_W32_C3_R4_ALU_INPINB</text></g>
<g id="PE_W32_C4_R4_ALU_INPINA"><ellipse class="g" cx="2344" cy="259.5" rx="139" ry="24.5"/><text class="s" x="2344" y="264.6">PE_W32_C4_R4_ALU_INPINA</text></g>
<g id="PE_W32_C4_R4_ALU_INPINB"><ellipse class="g" cx="2632" cy="259.5" rx="139" ry="24.5"/><text class="s" x="2632" y="264.6">PE_W32_C4_R4_ALU_INPINB</text></g>
<g id="PE_W32_C5_R4_ALU_INPINA"><ellipse class="b" cx="2920" cy="259.5" rx="139" ry="24.5"/><text class="s" x="2920" y="264.6">PE_W32_C5_R4_ALU_INPINA</text></g>
<g id="PE_W32_C5_R4_ALU_INPINB"><ellipse class="b" cx="3208" cy="259.5" rx="139" ry="24.5"/><text class="s" x="3208" y="264.6">PE_W32_C5_R4_ALU_INPINB</text></g>
<g id="PE_W32_C6_R4_ALU_INPINA"><ellipse class="g" cx="3496" cy="259.5" rx="139" ry="24.5"/><text class="s" x="3496" y="264.6">PE_W32_C6_R4_ALU_INPINA</text></g>
<g id="PE_W32_C6_R4_ALU_INPINB"><ellipse class="g" cx="3784" cy="259.5" rx="139" ry="24.5"/><text class="s" x="3784" y="264.6">PE_W32_C6_R4_ALU_INPINB</text></g>
<g id="LS_W32_C7_R4_MEMPORT"><rect class="g" x="4083.5" y="235" width="265" height="49"/><text class="t" x="4216" y="265.7">LS_W32_C7_R4_MEMPORT</text></g>
<g id="PE_W32_C1_R4_ALU_FMUL_15"><rect class="o" x="612.5" y="350.5" width="295" height="49"/><text class="t" x="760" y="381.2">PE_W32_C1_R4_ALU_FMUL_15</text></g>
<g id="PE_W32_C2_R4_ALU"><rect class="g" x="1235" y="350.5" width="202" height="49"/><text class="t" x="1336" y="381.2">PE_W32_C2_R4_ALU</text></g>
<g id="PE_W32_C3_R4_ALU"><rect class="g" x="1811" y="350.5" width="202" height="49"/><text class="t" x="1912" y="381.2">PE_W32_C3_R4_ALU</text></g>
<g id="PE_W32_C4_R4_ALU"><rect class="g" x="2387" y="350.5" width="202" height="49"/><text class="t" x="2488" y="381.2">PE_W32_C4_R4_ALU</text></g>
<g id="PE_W32_C5_R4_ALU_FADD_23"><rect class="o" x="2918.5" y="350.5" width="291" height="49"/><text class="t" x="3064" y="381.2">PE_W32_C5_R4_ALU_FADD_23</text></g>
<g id="PE_W32_C6_R4_ALU"><rect class="g" x="3539" y="350.5" width="202" height="49"/><text class="t" x="3640" y="381.2">PE_W32_C6_R4_ALU</text></g>
<g id="LS_W32_C0_R4_MEMPORT_OUTPINA"><ellipse class="p" cx="184" cy="490" rx="180" ry="24.5"/><text class="s" x="184" y="495.1">LS_W32_C0_R4_MEMPORT_OUTPINA</text></g>
<g id="PE_W32_C1_R4_ALU_OUTPINA"><ellipse class="p" cx="760" cy="490" rx="149" ry="24.5"/><text class="s" x="760" y="495.1">PE_W32_C1_R4_ALU_OUTPINA</text></g>
<g id="PE_W32_C2_R4_ALU_OUTPINA"><ellipse class="g" cx="1336" cy="490" rx="149" ry="24.5"/><text class="s" x="1336" y="495.1">PE_W32_C2_R4_ALU_OUTPINA</text></g>
<g id="PE_W32_C3_R4_ALU_OUTPINA"><ellipse class="g" cx="1912" cy="490" rx="149" ry="24.5"/><text class="s" x="1912" y="495.1">PE_W32_C3_R4_ALU_OUTPINA</text></g>
<g id="PE_W32_C4_R4_ALU_OUTPINA"><ellipse class="g" cx="2488" cy="490" rx="149" ry="24.5"/><text class="s" x="2488" y="495.1">PE_W32_C4_R4_ALU_OUTPINA</text></g>
<g id="PE_W32_C5_R4_ALU_OUTPINA"><ellipse class="p" cx="3064" cy="490" rx="149" ry="24.5"/><text class="s" x="3064" y="495.1">PE_W32_C5_R4_ALU_OUTPINA</text></g>
<g id="PE_W32_C6_R4_ALU_OUTPINA"><ellipse class="g" cx="3640" cy="490" rx="149" ry="24.5"/><text class="s" x="3640" y="495.1">PE_W32_C6_R4_ALU_OUTPINA</text></g>
<g id="LS_W32_C7_R4_MEMPORT_OUTPINA"><ellipse class="g" cx="4216" cy="490" rx="180" ry="24.5"/><text class="s" x="4216" y="495.1">LS_W32_C7_R4_MEMPORT_OUTPINA</text></g>
</g>
<g id="R3" transform="translate(0,3744)">
<g id="LS_W32_C0_R3_MEMPORT_INPINA"><ellipse class="g" cx="184" cy="29" rx="170.5" ry="24.5"/><text class="s" x="184" y="34.1">LS_W32_C0_R3_MEMPORT_INPINA</text></g>
<g id="PE_W32_C1_R3_CONST"><rect class="g" x="643.5" y="4.5" width="233" height="49"/><text class="t" x="760" y="35.2">PE_W32_C1_R3_CONST</text></g>
<g id="PE_W32_C2_R3_CONST"><rect class="g" x="1219.5" y="4.5" width="233" height="49"/><text class="t" x="1336" y="35.2">PE_W32_C2_R3_CONST</text></g>
<g id="PE_W32_C3_R3_CONST"><rect class="g" x="1795.5" y="4.5" width="233" height="49"/><text class="t" x="1912" y="35.2">PE_W32_C3_R3_CONST</text></g>
<g id="PE_W32_C4_R3_CONST"><rect class="g" x="2371.5" y="4.5" width="233" height="49"/><text class="t" x="2488" y="35.2">PE_W32_C4_R3_CONST</text></g>
<g id="PE_W32_C5_R3_CONST"><rect class="g" x="2947.5" y="4.5" width="233" height="49"/><text class="t" x="3064" y="35.2">PE_W32_C5_R3_CONST</text></g>
<g id="PE_W32_C6_R3_CONST"><rect class="g" x="3523.5" y="4.5" width="233" height="49"/><text class="t" x="3640" y="35.2">PE_W32_C6_R3_CONST</text></g>
<g id="LS_W32_C7_R3_MEMPORT_INPINA"><ellipse class="g" cx="4216" cy="29" rx="170.5" ry="24.5"/><text class="s" x="4216" y="34.1">LS_W32_C7_R3_MEMPORT_INPINA</text></g>
<g id="PE_W32_C1_R3_CONST_OUTPINA"><ellipse class="g" cx="760" cy="144.5" rx="162.5" ry="24.5"/><text class="s" x="760" y="149.6">PE_W32_C1_R3_CONST_OUTPINA</text></g>
<g id="PE_W32_C2_R3_CONST_OUTPINA"><ellipse class="g" cx="1336" cy="144.5" rx="162.5" ry="24.5"/><text class="s" x="1336" y="149.6">PE_W32_C2_R3_CONST_OUTPINA</text></g>
<g id="PE_W32_C3_R3_CONST_OUTPINA"><ellipse class="g" cx="1912" cy="144.5" rx="162.5" ry="24.5"/><text class="s" x="1912" y="149.6">PE_W32_C3_R3_CONST_OUTPINA</text></g>
<g id="PE_W32_C4_R3_CONST_OUTPINA"><ellipse class="g" cx="2488" cy="144.5" rx="162.5" ry="24.5"/><text class="s" x="2488" y="149.6">PE_W32_C4_R3_CONST_OUTPINA</text></g>
<g id="PE_W32_C5_R3_CONST_OUTPINA"><ellipse class="g" cx="3064" cy="144.5" rx="162.5" ry="24.5"/><text class="s" x="3064" y="149.6">PE_W32_C5_R3_CONST_OUTPINA</text></g>
<g id="PE_W32_C6_R3_CONST_OUTPINA"><ellipse class="g" cx="3640" cy="144.5" rx="162.5" ry="24.5"/><text class="s" x="3640" y="149.6">PE_W32_C6_R3_CONST_OUTPINA</text></g>
<g id="LS_W32_C0_R3_MEMPORT"><rect class="g" x="51.5" y="235" width="265" height="49"/><text class="t" x="184" y="265.7">LS_W32_C0_R3_MEMPORT</text></g>
<g id="PE_W32_C1_R3_ALU_INPINA"><ellipse class="g" cx="616" cy="259.5" rx="139" ry="24.5"/><text class="s" x="616" y="264.6">PE_W32_C1_R3_ALU_INPINA</text></g>
<g id="PE_W32_C1_R3_ALU_INPINB"><ellipse class="g" cx="904" cy="259.5" rx="139" ry="24.5"/><text class="s" x="904" y="264.6">PE_W32_C1_R3_ALU_INPINB</text></g>
<g id="PE_W32_C2_R3_ALU_INPINA"><ellipse class="g" cx="1192" cy="259.5" rx="139" ry="24.5"/><text class="s" x="1192" y="264.6">PE_W32_C2_R3_ALU_INPINA</text></g>
<g id="PE_W32_C2_R3_ALU_INPINB"><ellipse class="g" cx="1480" cy="259.5" rx="139" ry="24.5"/><text class="s" x="1480" y="264.6">PE_W32_C2_R3_ALU_INPINB</text></g>
<g id="PE_W32_C3_R3_ALU_INPINA"><ellipse class="b" cx="1768" cy="259.5" rx="139" ry="24.5"/><text class="s" x="1768" y="264.6">PE_W32_C3_R3_ALU_INPINA</text></g>
<g id="PE_W32_C3_R3_ALU_INPINB"><ellipse class="g" cx="2056" cy="259.5" rx="139" ry="24.5"/><text class="s" x="2056" y="264.6">PE_W32_C3_R3_ALU_INPINB</text></g>
<g id="PE_W32_C4_R3_ALU_INPINA"><ellipse class="b" cx="2344" cy="259.5" rx="139" ry="24.5"/><text class="s" x="2344" y="264.6">PE_W32_C4_R3_ALU_INPINA</text></g>
<g id="PE_W32_C4_R3_ALU_INPINB"><ellipse class="b" cx="2632" cy="259.5" rx="139" ry="24.5"/><text class="s" x="2632" y="264.6">PE_W32_C4_R3_ALU_INPINB</text></g>
<g id="PE_W32_C5_R3_ALU_INPINA"><ellipse class="g" cx="2920" cy="259.5" rx="139" ry="24.5"/><text class="s" x="2920" y="264.6">PE_W32_C5_R3_ALU_INPINA</text></g>
<g id="PE_W32_C5_R3_ALU_INPINB"><ellipse class="g" cx="3208" cy="259.5" rx="139" ry="24.5"/><text class="s" x="3208" y="264.6">PE_W32_C5_R3_ALU_INPINB</text></g>
<g id="PE_W32_C6_R3_ALU_INPINA"><ellipse class="b" cx="3496" cy="259.5" rx="139" ry="24.5"/><text class="s" x="3496" y="264.6">PE_W32_C6_R3_ALU_INPINA</text></g>
<g id="PE_W32_C6_R3_ALU_INPINB"><ellipse class="g" cx="3784" cy="259.5" rx="139" ry="24.5"/><text class="s" x="3784" y="264.6">PE_W32_C6_R3_ALU_INPINB</text></g>
<g id="LS_W32_C7_R3_MEMPORT_LOAD_1"><rect class="c" x="4044" y="235" width="344" height="49"/><text class="t" x="4216" y="265.7">LS_W32_C7_R3_MEMPORT_LOAD_1</text></g>
<g id="PE_W32_C1_R3_ALU"><rect class="g" x="659" y="350.5" width="202" height="49"/><text class="t" x="760" y="381.2">PE_W32_C1_R3_ALU</text></g>
<g id="PE_W32_C2_R3_ALU"><rect class="g" x="1235" y="350.5" width="202" height="49"/><text class="t" x="1336" y="381.2">PE_W32_C2_R3_ALU</text></g>
<g id="PE_W32_C3_R3_ALU_FMUL_13"><rect class="o" x="1764.5" y="350.5" width="295" height="49"/><text class="t" x="1912" y="381.2">PE_W32_C3_R3_ALU_FMUL_13</text></g>
<g id="PE_W32_C4_R3_ALU_FADD_19"><rect class="o" x="2342.5" y="350.5" width="291" height="49"/><text class="t" x="2488" y="381.2">PE_W32_C4_R3_ALU_FADD_19</text></g>
<g id="PE_W32_C5_R3_ALU"><rect class="g" x="2963" y="350.5" width="202" height="49"/><text class="t" x="3064" y="381.2">PE_W32_C5_R3_ALU</text></g>
<g id="PE_W32_C6_R3_ALU_FMUL_10"><rect class="o" x="3492.5" y="350.5" width="295" height="49"/><text class="t" x="3640" y="381.2">PE_W32_C6_R3_ALU_FMUL_10</text></g>
<g id="LS_W32_C0_R3_MEMPORT_OUTPINA"><ellipse class="g" cx="184" cy="490" rx="180" ry="24.5"/><text class="s" x="184" y="495.1">LS_W32_C0_R3_MEMPORT_OUTPINA</text></g>
<g id="PE_W32_C1_R3_ALU_OUTPINA"><ellipse class="g" cx="760" cy="490" rx="149" ry="24.5"/><text class="s" x="760" y="495.1">PE_W32_C1_R3_ALU_OUTPINA</text></g>
<g id="PE_W32_C2_R3_ALU_OUTPINA"><ellipse class="g" cx="1336" cy="490" rx="149" ry="24.5"/><text class="s" x="1336" y="495.1">PE_W32_C2_R3_ALU_OUTPINA</text></g>
<g id="PE_W32_C3_R3_ALU_OUTPINA"><ellipse class="p" cx="1912" cy="490" rx="149" ry="24.5"/><text class="s" x="1912" y="495.1">PE_W32_C3_R3_ALU_OUTPINA</text></g>
<g id="PE_W32_C4_R3_ALU_OUTPINA"><ellipse class="p" cx="2488" cy="490" rx="149" ry="24.5"/><text class="s" x="2488" y="495.1">PE_W32_C4_R3_ALU_OUTPINA</text></g>
<g id="PE_W32_C5_R3_ALU_OUTPINA"><ellipse class="g" cx="3064" cy="490" rx="149" ry="24.5"/><text class="s" x="3064" y="495.1">PE_W32_C5_R3_ALU_OUTPINA</text></g>
<g id="PE_W32_C6_R3_ALU_OUTPINA"><ellipse class="p" cx="3640" cy="490" rx="149" ry="24.5"/><text class="s" x="3640" y="495.1">PE_W32_C6_R3_ALU_OUTPINA</text></g>
<g id="LS_W32_C7_R3_MEMPORT_OUTPINA"><ellipse class="p" cx="4216" cy="490" rx="180" ry="24.5"/><text class="s" x="4216" y="495.1">LS_W32_C7_R3_MEMPORT_OUTPINA</text></g>
</g>
<g id="R2" transform="translate(0,4492.8)">
<g id="LS_W32_C0_R2_MEMPORT_INPINA"><ellipse class="g" cx="184" cy="29" rx="170.5" ry="24.5"/><text class="s" x="184" y="34.1">LS_W32_C0_R2_MEMPORT_INPINA</text></g>
<g id="PE_W32_C1_R2_CONST"><rect class="g" x="643.5" y="4.5" width="233" height="49"/><text class="t" x="760" y="35.2">PE_W32_C1_R2_CONST</text></g>
<g id="PE_W32_C2_R2_CONST"><rect class="g" x="1219.5" y="4.5" width="233" height="49"/><text class="t" x="1336" y="35.2">PE_W32_C2_R2_CONST</text></g>
<g id="PE_W32_C3_R2_CONST"><rect class="g" x="1795.5" y="4.5" width="233" height="49"/><text class="t" x="1912" y="35.2">PE_W32_C3_R2_CONST</text></g>
<g id="PE_W32_C4_R2_CONST"><rect class="g" x="2371.5" y="4.5" width="233" height="49"/><text class="t" x="2488" y="35.2">PE_W32_C4_R2_CONST</text></g>
<g id="PE_W32_C5_R2_CONST"><rect class="g" x="2947.5" y="4.5" width="233" height="49"/><text class="t" x="3064" y="35.2">PE_W32_C5_R2_CONST</text></g>
<g id="PE_W32_C6_R2_CONST"><rect class="g" x="3523.5" y="4.5" width="233" height="49"/><text class="t" x="3640" y="35.2">PE_W32_C6_R2_CONST</text></g>
<g id="LS_W32_C7_R2_MEMPORT_INPINA"><ellipse class="g" cx="4216" cy="29" rx="170.5" ry="24.5"/><text class="s" x="4216" y="34.1">LS_W32_C7_R2_MEMPORT_INPINA</text></g>
<g id="PE_W32_C1_R2_CONST_OUTPINA"><ellipse class="g" cx="760" cy="144.5" rx="162.5" ry="24.5"/><text class="s" x="760" y="149.6">PE_W32_C1_R2_CONST_OUTPINA</text></g>
<g id="PE_W32_C2_R2_CONST_OUTPINA"><ellipse class="g" cx="1336" cy="144.5" rx="162.5" ry="24.5"/><text class="s" x="1336" y="149.6">PE_W32_C2_R2_CONST_OUTPINA</text></g>
<g id="PE_W32_C3_R2_CONST_OUTPINA"><ellipse class="g" cx="1912" cy="144.5" rx="162.5" ry="24.5"/><text class="s" x="1912" y="149.6">PE_W32_C3_R2_CONST_OUTPINA</text></g>
<g id="PE_W32_C4_R2_CONST_OUTPINA"><ellipse class="g" cx="2488" cy="144.5" rx="162.5" ry="24.5"/><text class="s" x="2488" y="149.6">PE_W32_C4_R2_CONST_OUTPINA</text></g>
<g id="PE_W32_C5_R2_CONST_OUTPINA"><ellipse class="g" cx="3064" cy="144.5" rx="162.5" ry="24.5"/><text class="s" x="3064" y="149.6">PE_W32_C5_R2_CONST_OUTPINA</text></g>
<g id="PE_W32_C6_R2_CONST_OUTPINA"><ellipse class="g" cx="3640" cy="144.5" rx="162.5" ry="24.5"/><text class="s" x="3640" y="149.6">PE_W32_C6_R2_CONST_OUTPINA</text></g>
<g id="LS_W32_C0_R2_MEMPORT_LOAD_5"><rect class="c" x="12" y="235" width="344" height="49"/><text class="t" x="184" y="265.7">LS_W32_C0_R2_MEMPORT_LOAD_5</text></g>
<g id="PE_W32_C1_R2_ALU_INPINA"><ellipse class="g" cx="616" cy="259.5" rx="139" ry="24.5"/><text class="s" x="616" y="264.6">PE_W32_C1_R2_ALU_INPINA</text></g>
<g id="PE_W32_C1_R2_ALU_INPINB"><ellipse class="g" cx="904" cy="259.5" rx="139" ry="24.5"/><text class="s" x="904" y="264.6">PE_W32_C1_R2_ALU_INPINB</text></g>
<g id="PE_W32_C2_R2_ALU_INPINA"><ellipse class="b" cx="1192" cy="259.5" rx="139" ry="24.5"/><text class="s" x="1192" y="264.6">PE_W32_C2_R2_ALU_INPINA</text></g>
<g id="PE_W32_C2_R2_ALU_INPINB"><ellipse class="g" cx="1480" cy="259.5" rx="139" ry="24.5"/><text class="s" x="1480" y="264.6">PE_W32_C2_R2_ALU_INPINB</text></g>
<g id="PE_W32_C3_R2_ALU_INPINA"><ellipse class="g" cx="1768" cy="259.5" rx="139" ry="24.5"/><text class="s" x="1768" y="264.6">PE_W32_C3_R2_ALU_INPINA</text></g>
<g id="PE_W32_C3_R2_ALU_INPINB"><ellipse class="g" cx="2056" cy="259.5" rx="139" ry="24.5"/><text class="s" x="2056" y="264.6">PE_W32_C3_R2_ALU_INPINB</text></g>
<g id="PE_W32_C4_R2_ALU_INPINA"><ellipse class="b" cx="2344" cy="259.5" rx="139" ry="24.5"/><text class="s" x="2344" y="264.6">PE_W32_C4_R2_ALU_INPINA</text></g>
<g id="PE_W32_C4_R2_ALU_INPINB"><ellipse class="b" cx="2632" cy="259.5" rx="139" ry="24.5"/><text class="s" x="2632" y="264.6">PE_W32_C4_R2_ALU_INPINB</text></g>
<g id="PE_W32_C5_R2_ALU_INPINA"><ellipse class="b" cx="2920" cy="259.5" rx="139" ry="24.5"/><text class="s" x="2920" y="264.6">PE_W32_C5_R2_ALU_INPINA</text></g>
<g id="PE_W32_C5_R2_ALU_INPINB"><ellipse class="b" cx="3208" cy="259.5" rx="139" ry="24.5"/><text class="s" x="3208" y="264.6">PE_W32_C5_R2_ALU_INPINB</text></g>
<g id="PE_W32_C6_R2_ALU_INPINA"><ellipse class="g" cx="3496" cy="259.5" rx="139" ry="24.5"/><text class="s" x="3496" y="264.6">PE_W32_C6_R2_ALU_INPINA</text></g>
<g id="PE_W32_C6_R2_ALU_INPINB"><ellipse class="g" cx="3784" cy="259.5" rx="139" ry="24.5"/><text class="s" x="3784" y="264.6">PE_W32_C6_R2_ALU_INPINB</text></g>
<g id="LS_W32_C7_R2_MEMPORT_LOAD_7"><rect class="c" x="4044" y="235" width="344" height="49"/><text class="t" x="4216" y="265.7">LS_W32_C7_R2_MEMPORT_LOAD_7</text></g>
<g id="PE_W32_C1_R2_ALU"><rect class="g" x="659" y="350.5" width="202" height="49"/><text class="t" x="760" y="381.2">PE_W32_C1_R2_ALU</text></g>
<g id="PE_W32_C2_R2_ALU_FMUL_14"><rect class="o" x="1188.5" y="350.5" width="295" height="49"/><text class="t" x="1336" y="381.2">PE_W32_C2_R2_ALU_FMUL_14</text></g>
<g id="PE_W32_C3_R2_ALU"><rect class="g" x="1811" y="350.5" width="202" height="49"/><text class="t" x="1912" y="381.2">PE_W32_C3_R2_ALU</text></g>
<g id="PE_W32_C4_R2_ALU_FADD_21"><rect class="o" x="2342.5" y="350.5" width="291" height="49"/><text class="t" x="2488" y="381.2">PE_W32_C4_R2_ALU_FADD_21</text></g>
<g id="PE_W32_C5_R2_ALU_FADD_25"><rect class="o" x="2918.5" y="350.5" width="291" height="49"/><text class="t" x="3064" y="381.2">PE_W32_C5_R2_ALU_FADD_25</text></g>
<g id="PE_W32_C6_R2_ALU"><rect class="g" x="3539" y="350.5" width="202" height="49"/><text class="t" x="3640" y="381.2">PE_W32_C6_R2_ALU</text></g>
<g id="LS_W32_C0_R2_MEMPORT_OUTPINA"><ellipse class="p" cx="184" cy="490" rx="180" ry="24.5"/><text class="s" x="184" y="495.1">LS_W32_C0_R2_MEMPORT_OUTPINA</text></g>
<g id="PE_W32_C1_R2_ALU_OUTPINA"><ellipse class="g" cx="760" cy="490" rx="149" ry="24.5"/><text class="s" x="760" y="495.1">PE_W32_C1_R2_ALU_OUTPINA</text></g>
<g id="PE_W32_C2_R2_ALU_OUTPINA"><ellipse class="p" cx="1336" cy="490" rx="149" ry="24.5"/><text class="s" x="1336" y="495.1">PE_W32_C2_R2_ALU_OUTPINA</text></g>
<g id="PE_W32_C3_R2_ALU_OUTPINA"><ellipse class="g" cx="1912" cy="490" rx="149" ry="24.5"/><text class="s" x="1912" y="495.1">PE_W32_C3_R2_ALU_OUTPINA</text></g>
<g id="PE_W32_C4_R2_ALU_OUTPINA"><ellipse class="p" cx="2488" cy="490" rx="149" ry="24.5"/><text class="s" x="2488" y="495.1">PE_W32_C4_R2_ALU_OUTPINA</text></g>
<g id="PE_W32_C5_R2_ALU_OUTPINA"><ellipse class="p" cx="3064" cy="490" rx="149" ry="24.5"/><text class="s" x="3064" y="495.1">PE_W32_C5_R2_ALU_OUTPINA</text></g>
<g id="PE_W32_C6_R2_ALU_OUTPINA"><ellipse class="g" cx="3640" cy="490" rx="149" ry="24.5"/><text class="s" x="3640" y="495.1">PE_W32_C6_R2_ALU_OUTPINA</text></g>
<g id="LS_W32_C7_R2_MEMPORT_OUTPINA"><ellipse class="p" cx="4216" cy="490" rx="180" ry="24.5"/><text class="s" x="4216" y="495.1">LS_W32_C7_R2_MEMPORT_OUTPINA</text></g>
</g>
<g id="R1" transform="translate(0,5241.6)">
<g id="LS_W32_C0_R1_MEMPORT_INPINA"><ellipse class="g" cx="184" cy="29" rx="170.5" ry="24.5"/><text class="s" x="184" y="34.1">LS_W32_C0_R1_MEMPORT_INPINA</text></g>
<g id="PE_W32_C1_R1_CONST"><rect class="g" x="643.5" y="4.5" width="233" height="49"/><text class="t" x="760" y="35.2">PE_W32_C1_R1_CONST</text></g>
<g id="PE_W32_C2_R1_CONST"><rect class="g" x="1219.5" y="4.5" width="233" height="49"/><text class="t" x="1336" y="35.2">PE_W32_C2_R1_CONST</text></g>
<g id="PE_W32_C3_R1_CONST"><rect class="g" x="1795.5" y="4.5" width="233" height="49"/><text class="t" x="1912" y="35.2">PE_W32_C3_R1_CONST</text></g>
<g id="PE_W32_C4_R1_CONST"><rect class="g" x="2371.5" y="4.5" width="233" height="49"/><text class="t" x="2488" y="35.2">PE_W32_C4_R1_CONST</text></g>
<g id="PE_W32_C5_R1_CONST"><rect class="g" x="2947.5" y="4.5" width="233" height="49"/><text class="t" x="3064" y="35.2">PE_W32_C5_R1_CONST</text></g>
<g id="PE_W32_C6_R1_CONST"><rect class="g" x="3523.5" y="4.5" width="233" height="49"/><text class="t" x="3640" y="35.2">PE_W32_C6_R1_CONST</text></g>
<g id="LS_W32_C7_R1_MEMPORT_INPINA"><ellipse class="b" cx="4216" cy="29" rx="170.5" ry="24.5"/><text class="s" x="4216" y="34.1">LS_W32_C7_R1_MEMPORT_INPINA</text></g>
<g id="PE_W32_C1_R1_CONST_OUTPINA"><ellipse class="g" cx="760" cy="144.5" rx="162.5" ry="24.5"/><text class="s" x="760" y="149.6">PE_W32_C1_R1_CONST_OUTPINA</text></g>
<g id="PE_W32_C2_R1_CONST_OUTPINA"><ellipse class="g" cx="1336" cy="144.5" rx="162.5" ry="24.5"/><text class="s" x="1336" y="149.6">PE_W32_C2_R1_CONST_OUTPINA</text></g>
<g id="PE_W32_C3_R1_CONST_OUTPINA"><ellipse class="g" cx="1912" cy="144.5" rx="162.5" ry="24.5"/><text class="s" x="1912" y="149.6">PE_W32_C3_R1_CONST_OUTPINA</text></g>
<g id="PE_W32_C4_R1_CONST_OUTPINA"><ellipse class="g" cx="2488" cy="144.5" rx="162.5" ry="24.5"/><text class="s" x="2488" y="149.6">PE_W32_C4_R1_CONST_OUTPINA</text></g>
<g id="PE_W32_C5_R1_CONST_OUTPINA"><ellipse class="g" cx="3064" cy="144.5" rx="162.5" ry="24.5"/><text class="s" x="3064" y="149.6">PE_W32_C5_R1_CONST_OUTPINA</text></g>
<g id="PE_W32_C6_R1_CONST_OUTPINA"><ellipse class="g" cx="3640" cy="144.5" rx="162.5" ry="24.5"/><text class="s" x="3640" y="149.6">PE_W32_C6_R1_CONST_OUTPINA</text></g>
<g id="LS_W32_C0_R1_MEMPORT_LOAD_8"><rect class="c" x="12" y="235" width="344" height="49"/><text class="t" x="184" y="265.7">LS_W32_C0_R1_MEMPORT_LOAD_8</text></g>
<g id="PE_W32_C1_R1_ALU_INPINA"><ellipse class="b" cx="616" cy="259.5" rx="139" ry="24.5"/><text class="s" x="616" y="264.6">PE_W32_C1_R1_ALU_INPINA</text></g>
<g id="PE_W32_C1_R1_ALU_INPINB"><ellipse class="g" cx="904" cy="259.5" rx="139" ry="24.5"/><text class="s" x="904" y="264.6">PE_W32_C1_R1_ALU_INPINB</text></g>
<g id="PE_W32_C2_R1_ALU_INPINA"><ellipse class="b" cx="1192" cy="259.5" rx="139" ry="24.5"/><text class="s" x="1192" y="264.6">PE_W32_C2_R1_ALU_INPINA</text></g>
<g id="PE_W32_C2_R1_ALU_INPINB"><ellipse class="b" cx="1480" cy="259.5" rx="139" ry="24.5"/><text class="s" x="1480" y="264.6">PE_W32_C2_R1_ALU_INPINB</text></g>
<g id="PE_W32_C3_R1_ALU_INPINA"><ellipse class="b" cx="1768" cy="259.5" rx="139" ry="24.5"/><text class="s" x="1768" y="264.6">PE_W32_C3_R1_ALU_INPINA</text></g>
<g id="PE_W32_C3_R1_ALU_INPINB"><ellipse class="b" cx="2056" cy="259.5" rx="139" ry="24.5"/><text class="s" x="2056" y="264.6">PE_W32_C3_R1_ALU_INPINB</text></g>
<g id="PE_W32_C4_R1_ALU_INPINA"><ellipse class="b" cx="2344" cy="259.5" rx="139" ry="24.5"/><text class="s" x="2344" y="264.6">PE_W32_C4_R1_ALU_INPINA</text></g>
<g id="PE_W32_C4_R1_ALU_INPINB"><ellipse class="b" cx="2632" cy="259.5" rx="139" ry="24.5"/><text class="s" x="2632" y="264.6">PE_W32_C4_R1_ALU_INPINB</text></g>
<g id="PE_W32_C5_R1_ALU_INPINA"><ellipse class="g" cx="2920" cy="259.5" rx="139" ry="24.5"/><text class="s" x="2920" y="264.6">PE_W32_C5_R1_ALU_INPINA</text></g>
<g id="PE_W32_C5_R1_ALU_INPINB"><ellipse class="b" cx="3208" cy="259.5" rx="139" ry="24.5"/><text class="s" x="3208" y="264.6">PE_W32_C5_R1_ALU_INPINB</text></g>
<g id="PE_W32_C6_R1_ALU_INPINA"><ellipse class="g" cx="3496" cy="259.5" rx="139" ry="24.5"/><text class="s" x="3496" y="264.6">PE_W32_C6_R1_ALU_INPINA</text></g>
<g id="PE_W32_C6_R1_ALU_INPINB"><ellipse class="g" cx="3784" cy="259.5" rx="139" ry="24.5"/><text class="s" x="3784" y="264.6">PE_W32_C6_R1_ALU_INPINB</text></g>
<g id="LS_W32_C7_R1_MEMPORT_STORE_26"><rect class="c" x="4034" y="235" width="364" height="49"/><text class="t" x="4216" y="265.7">LS_W32_C7_R1_MEMPORT_STORE_26</text></g>
<g id="PE_W32_C1_R1_ALU_FMUL_17"><rect class="o" x="612.5" y="350.5" width="295" height="49"/><text class="t" x="760" y="381.2">PE_W32_C1_R1_ALU_FMUL_17</text></g>
<g id="PE_W32_C2_R1_ALU_FADD_24"><rect class="o" x="1190.5" y="350.5" width="291" height="49"/><text class="t" x="1336" y="381.2">PE_W32_C2_R1_ALU_FADD_24</text></g>
<g id="PE_W32_C3_R1_ALU_FADD_20"><rect class="o" x="1766.5" y="350.5" width="291" height="49"/><text class="t" x="1912" y="381.2">PE_W32_C3_R1_ALU_FADD_20</text></g>
<g id="PE_W32_C4_R1_ALU_FADD_18"><rect class="o" x="2342.5" y="350.5" width="291" height="49"/><text class="t" x="2488" y="381.2">PE_W32_C4_R1_ALU_FADD_18</text></g>
<g id="PE_W32_C5_R1_ALU_FMUL_16"><rect class="o" x="2916.5" y="350.5" width="295" height="49"/><text class="t" x="3064" y="381.2">PE_W32_C5_R1_ALU_FMUL_16</text></g>
<g id="PE_W32_C6_R1_ALU"><rect class="g" x="3539" y="350.5" width="202" height="49"/><text class="t" x="3640" y="381.2">PE_W32_C6_R1_ALU</text></g>
<g id="LS_W32_C0_R1_MEMPORT_OUTPINA"><ellipse class="p" cx="184" cy="490" rx="180" ry="24.5"/><text class="s" x="184" y="495.1">LS_W32_C0_R1_MEMPORT_OUTPINA</text></g>
<g id="PE_W32_C1_R1_ALU_OUTPINA"><ellipse class="p" cx="760" cy="490" rx="149" ry="24.5"/><text class="s" x="760" y="495.1">PE_W32_C1_R1_ALU_OUTPINA</text></g>
<g id="PE_W32_C2_R1_ALU_OUTPINA"><ellipse class="p" cx="1336" cy="490" rx="149" ry="24.5"/><text class="s" x="1336" y="495.1">PE_W32_C2_R1_ALU_OUTPINA</text></g>
<g id="PE_W32_C3_R1_ALU_OUTPINA"><ellipse class="p" cx="1912" cy="490" rx="149" ry="24.5"/><text class="s" x="1912" y="495.1">PE_W32_C3_R1_ALU_OUTPINA</text></g>
<g id="PE_W32_C4_R1_ALU_OUTPINA"><ellipse class="p" cx="2488" cy="490" rx="149" ry="24.5"/><text class="s" x="2488" y="495.1">PE_W32_C4_R1_ALU_OUTPINA</text></g>
<g id="PE_W32_C5_R1_ALU_OUTPINA"><ellipse class="p" cx="3064" cy="490" rx="149" ry="24.5"/><text class="s" x="3064" y="495.1">PE_W32_C5_R1_ALU_OUTPINA</text></g>
<g id="PE_W32_C6_R1_ALU_OUTPINA"><ellipse class="g" cx="3640" cy="490" rx="149" ry="24.5"/><text class="s" x="3640" y="495.1">PE_W32_C6_R1_ALU_OUTPINA</text></g>
<g id="LS_W32_C7_R1_MEMPORT_OUTPINA"><ellipse class="g" cx="4216" cy="490" rx="180" ry="24.5"/><text class="s" x="4216" y="495.1">LS_W32_C7_R1_MEMPORT_OUTPINA</text></g>
</g>
<g id="R0" transform="translate(0,5990.4)">
<g id="LS_W32_C0_R0_MEMPORT_INPINA"><ellipse class="g" cx="184" cy="29" rx="170.5" ry="24.5"/><text class="s" x="184" y="34.1">LS_W32_C0_R0_MEMPORT_INPINA</text></g>
<g id="PE_W32_C1_R0_CONST"><rect class="g" x="643.5" y="4.5" width="233" height="49"/><text class="t" x="760" y="35.2">PE_W32_C1_R0_CONST</text></g>
<g id="PE_W32_C2_R0_CONST"><rect class="g" x="1219.5" y="4.5" width="233" height="49"/><text class="t" x="1336" y="35.2">PE_W32_C2_R0_CONST</text></g>
<g id="PE_W32_C3_R0_CONST"><rect class="g" x="1795.5" y="4.5" width="233" height="49"/><text class="t" x="1912" y="35.2">PE_W32_C3_R0_CONST</text></g>
<g id="PE_W32_C4_R0_CONST"><rect class="g" x="2371.5" y="4.5" width="233" height="49"/><text class="t" x="2488" y="35.2">PE_W32_C4_R0_CONST</text></g>
<g id="PE_W32_C5_R0_CONST"><rect class="g" x="2947.5" y="4.5" width="233" height="49"/><text class="t" x="3064" y="35.2">PE_W32_C5_R0_CONST</text></g>
<g id="PE_W32_C6_R0_CONST"><rect class="g" x="3523.5" y="4.5" width="233" height="49"/><text class="t" x="3640" y="35.2">PE_W32_C6_R0_CONST</text></g>
<g id="LS_W32_C7_R0_MEMPORT_INPINA"><ellipse class="g" cx="4216" cy="29" rx="170.5" ry="24.5"/><text class="s" x="4216" y="34.1">LS_W32_C7_R0_MEMPORT_INPINA</text></g>
<g id="PE_W32_C1_R0_CONST_OUTPINA"><ellipse class="g" cx="760" cy="144.5" rx="162.5" ry="24.5"/><text class="s" x="760" y="149.6">PE_W32_C1_R0_CONST_OUTPINA</text></g>
<g id="PE_W32_C2_R0_CONST_OUTPINA"><ellipse class="g" cx="1336" cy="144.5" rx="162.5" ry="24.5"/><text class="s" x="1336" y="149.6">PE_W32_C2_R0_CONST_OUTPINA</text></g>
<g id="PE_W32_C3_R0_CONST_OUTPINA"><ellipse class="g" cx="1912" cy="144.5" rx="162.5" ry="24.5"/><text class="s" x="1912" y="149.6">PE_W32_C3_R0_CONST_OUTPINA</text></g>
<g id="PE_W32_C4_R0_CONST_OUTPINA"><ellipse class="g" cx="2488" cy="144.5" rx="162.5" ry="24.5"/><text class="s" x="2488" y="149.6">PE_W32_C4_R0_CONST_OUTPINA</text></g>
<g id="PE_W32_C5_R0_CONST_OUTPINA"><ellipse class="g" cx="3064" cy="144.5" rx="162.5" ry="24.5"/><text class="s" x="3064" y="149.6">PE_W32_C5_R0_CONST_OUTPINA</text></g>
<g id="PE_W32_C6_R0_CONST_OUTPINA"><ellipse class="g" cx="3640" cy="144.5" rx="162.5" ry="24.5"/><text class="s" x="3640" y="149.6">PE_W32_C6_R0_CONST_OUTPINA</text></g>
<g id="LS_W32_C0_R0_MEMPORT_LOAD_0"><rect class="c" x="12" y="235" width="344" height="49"/><text class="t" x="184" y="265.7">LS_W32_C0_R0_MEMPORT_LOAD_0</text></g>
<g id="PE_W32_C1_R0_ALU_INPINA"><ellipse class="g" cx="616" cy="259.5" rx="139" ry="24.5"/><text class="s" x="616" y="264.6">PE_W32_C1_R0_ALU_INPINA</text></g>
<g id="PE_W32_C1_R0_ALU_INPINB"><ellipse class="g" cx="904" cy="259.5" rx="139" ry="24.5"/><text class="s" x="904" y="264.6">PE_W32_C1_R0_ALU_INPINB</text></g>
<g id="PE_W32_C2_R0_ALU_INPINA"><ellipse class="g" cx="1192" cy="259.5" rx="139" ry="24.5"/><text class="s" x="1192" y="264.6">PE_W32_C2_R0_ALU_INPINA</text></g>
<g id="PE_W32_C2_R0_ALU_INPINB"><ellipse class="b" cx="1480" cy="259.5" rx="139" ry="24.5"/><text class="s" x="1480" y="264.6">PE_W32_C2_R0_ALU_INPINB</text></g>
<g id="PE_W32_C3_R0_ALU_INPINA"><ellipse class="b" cx="1768" cy="259.5" rx="139" ry="24.5"/><text class="s" x="1768" y="264.6">PE_W32_C3_R0_ALU_INPINA</text></g>
<g id="PE_W32_C3_R0_ALU_INPINB"><ellipse class="b" cx="2056" cy="259.5" rx="139" ry="24.5"/><text class="s" x="2056" y="264.6">PE_W32_C3_R0_ALU_INPINB</text></g>
<g id="PE_W32_C4_R0_ALU_INPINA"><ellipse class="g" cx="2344" cy="259.5" rx="139" ry="24.5"/><text class="s" x="2344" y="264.6">PE_W32_C4_R0_ALU_INPINA</text></g>
<g id="PE_W32_C4_R0_ALU_INPINB"><ellipse class="b" cx="2632" cy="259.5" rx="139" ry="24.5"/><text class="s" x="2632" y="264.6">PE_W32_C4_R0_ALU_INPINB</text></g>
<g id="PE_W32_C5_R0_ALU_INPINA"><ellipse class="g" cx="2920" cy="259.5" rx="139" ry="24.5"/><text class="s" x="2920" y="264.6">PE_W32_C5_R0_ALU_INPINA</text></g>
<g id="PE_W32_C5_R0_ALU_INPINB"><ellipse class="g" cx="3208" cy="259.5" rx="139" ry="24.5"/><text class="s" x="3208" y="264.6">PE_W32_C5_R0_ALU_INPINB</text></g>
<g id="PE_W32_C6_R0_ALU_INPINA"><ellipse class="g" cx="3496" cy="259.5" rx="139" ry="24.5"/><text class="s" x="3496" y="264.6">PE_W32_C6_R0_ALU_INPINA</text></g>
<g id="PE_W32_C6_R0_ALU_INPINB"><ellipse class="g" cx="3784" cy="259.5" rx="139" ry="24.5"/><text class="s" x="3784" y="264.6">PE_W32_C6_R0_ALU_INPINB</text></g>
<g id="LS_W32_C7_R0_MEMPORT_LOAD_3"><rect class="c" x="4044" y="235" width="344" height="49"/><text class="t" x="4216" y="265.7">LS_W32_C7_R0_MEMPORT_LOAD_3</text></g>
<g id="PE_W32_C1_R0_ALU"><rect class="g" x="659" y="350.5" width="202" height="49"/><text class="t" x="760" y="381.2">PE_W32_C1_R0_ALU</text></g>
<g id="PE_W32_C2_R0_ALU_FMUL_9"><rect class="o" x="1194" y="350.5" width="284" height="49"/><text class="t" x="1336" y="381.2">PE_W32_C2_R0_ALU_FMUL_9</text></g>
<g id="PE_W32_C3_R0_ALU_FADD_22"><rect class="o" x="1766.5" y="350.5" width="291" height="49"/><text class="t" x="1912" y="381.2">PE_W32_C3_R0_ALU_FADD_22</text></g>
<g id="PE_W32_C4_R0_ALU_FMUL_12"><rect class="o" x="2340.5" y="350.5" width="295" height="49"/><text class="t" x="2488" y="381.2">PE_W32_C4_R0_ALU_FMUL_12</text></g>
<g id="PE_W32_C5_R0_ALU"><rect class="g" x="2963" y="350.5" width="202" height="49"/><text class="t" x="3064" y="381.2">PE_W32_C5_R0_ALU</text></g>
<g id="PE_W32_C6_R0_ALU"><rect class="g" x="3539" y="350.5" width="202" height="49"/><text class="t" x="3640" y="381.2">PE_W32_C6_R0_ALU</text></g>
<g id="LS_W32_C0_R0_MEMPORT_OUTPINA"><ellipse class="p" cx="184" cy="490" rx="180" ry="24.5"/><text class="s" x="184" y="495.1">LS_W32_C0_R0_MEMPORT_OUTPINA</text></g>
<g id="PE_W32_C1_R0_ALU_OUTPINA"><ellipse class="g" cx="760" cy="490" rx="149" ry="24.5"/><text class="s" x="760" y="495.1">PE_W32_C1_R0_ALU_OUTPINA</text></g>
<g id="PE_W32_C2_R0_ALU_OUTPINA"><ellipse class="p" cx="1336" cy="490" rx="149" ry="24.5"/><text class="s" x="1336" y="495.1">PE_W32_C2_R0_ALU_OUTPINA</text></g>
<g id="PE_W32_C3_R0_ALU_OUTPINA"><ellipse class="p" cx="1912" cy="490" rx="149" ry="24.5"/><text class="s" x="1912" y="495.1">PE_W32_C3_R0_ALU_OUTPINA</text></g>
<g id="PE_W32_C4_R0_ALU_OUTPINA"><ellipse class="p" cx="2488" cy="490" rx="149" ry="24.5"/><text class="s" x="2488" y="495.1">PE_W32_C4_R0_ALU_OUTPINA</text></g>
<g id="PE_W32_C5_R0_ALU_OUTPINA"><ellipse class="g" cx="3064" cy="490" rx="149" ry="24.5"/><text class="s" x="3064" y="495.1">PE_W32_C5_R0_ALU_OUTPINA</text></g>
<g id="PE_W32_C6_R0_ALU_OUTPINA"><ellipse class="g" cx="3640" cy="490" rx="149" ry="24.5"/><text class="s" x="3640" y="495.1">PE_W32_C6_R0_ALU_OUTPINA</text></g>
<g id="LS_W32_C7_R0_MEMPORT_OUTPINA"><ellipse class="p" cx="4216" cy="490" rx="180" ry="24.5"/><text class="s" x="4216" y="495.1">LS_W32_C7_R0_MEMPORT_OUTPINA</text></g>
</g>
</g>
<g id="edges">
<path class="e" d="M184,2530.4V2705.9"/>
<path class="e" d="M3541,2529.1V2590.9"/>
<path class="e" d="M3640,2645.9V2705.9"/>
<path class="e" d="M4273,2530.4V2707.2"/>
<path class="e" d="M4159,2713.2V2564H3587V2530.4"/>
<path class="e" d="M3508,2747.8V2882H2841V3228.5"/>
<path class="e" d="M363.5,2737H439V3301H1688V3977.5"/>
<path class="e" d="M184,3279.2V3454.7"/>
<path class="e" d="M356,3478H537V3280.9"/>
<path class="e" d="M684,3276.1V3339.7"/>
<path class="e" d="M760,3394.7V3454.7"/>
<path class="e" d="M619,3493H401V5444H1419V5473.1"/>
<path class="e" d="M2989,3276V3339.7"/>
<path class="e" d="M3139,3276V3339.7"/>
<path class="e" d="M3064,3394.7V3454.7"/>
<path class="e" d="M2931,3496.2V3629H2264V3977.5"/>
<path class="e" d="M3789,4233H3979V3324H3288V3280.7"/>
<path class="e" d="M1837,4024.8V4088.5"/>
<path class="e" d="M1912.5,4143.5V4203.5"/>
<path class="e" d="M2061,4234H2264V4726.3"/>
<path class="e" d="M2413,4024.8V4088.5"/>
<path class="e" d="M2562,4024.7V4088.5"/>
<path class="e" d="M2488,4143.5V4203.5"/>
<path class="e" d="M2637,4234H2841V4726.1"/>
<path class="e" d="M2536,4959.6V4925H4015V4073H2711.5V4029.6"/>
<path class="e" d="M3540,4026.7V4088.5"/>
<path class="e" d="M3640,4143.5V4203.5"/>
<path class="e" d="M4273,4028V4204.8"/>
<path class="e" d="M4158,4210.8V4051H3588V4027.9"/>
<path class="e" d="M127,4776.8V4953.6"/>
<path class="e" d="M241,4959.6V4823H1112V4778.3"/>
<path class="e" d="M1261,4773.6V4837.3"/>
<path class="e" d="M1336,4892.3V4952.3"/>
<path class="e" d="M1485,4983H1688V5475.1"/>
<path class="e" d="M2413,4773.6V4837.3"/>
<path class="e" d="M2562,4773.5V4837.3"/>
<path class="e" d="M2439,4892.3V4953.7"/>
<path class="e" d="M3113,5708.5V5674H3996V4810H2711.5V4778.4"/>
<path class="e" d="M2989,4773.6V4837.3"/>
<path class="e" d="M3139,4773.6V4837.3"/>
<path class="e" d="M3064,4892.3V4952.3"/>
<path class="e" d="M2536,5708.4V5658H3942V4793H3267V4780.5"/>
<path class="e" d="M3197,4993.8V5087H4216V5240.1"/>
<path class="e" d="M4216,4776.8V4952.3"/>
<path class="e" d="M4042,4989.1V5168H3308V5478.1"/>
<path class="e" d="M4216,5295.1V5470.6"/>
<path class="e" d="M184,5525.6V5701.1"/>
<path class="e" d="M363.5,5732H537V5527.3"/>
<path class="e" d="M684,5522.5V5586.1"/>
<path class="e" d="M760,5641.1V5701.1"/>
<path class="e" d="M909.5,5732H1113V5527.3"/>
<path class="e" d="M1261.5,5522.4V5586.1"/>
<path class="e" d="M1411,5522.4V5586.1"/>
<path class="e" d="M1288,5641.1V5702.4"/>
<path class="e" d="M1385,5708.5V5692H2069V5531.5"/>
<path class="e" d="M1837,5522.4V5586.1"/>
<path class="e" d="M1986,5522.3V5586.1"/>
<path class="e" d="M1912.5,5641.1V5701.1"/>
<path class="e" d="M2061,5732H2264V5527.1"/>
<path class="e" d="M2413,5522.4V5586.1"/>
<path class="e" d="M2562,5522.3V5586.1"/>
<path class="e" d="M2439,5641.1V5702.5"/>
<path class="e" d="M1960,6457.2V6422H3960V5559H2711.5V5527.2"/>
<path class="e" d="M3139,5522.4V5586.1"/>
<path class="e" d="M3014,5641.1V5702.5"/>
<path class="e" d="M127,6274.4V6451.2"/>
<path class="e" d="M241,6457.2V6318.5H1385V6273.8"/>
<path class="e" d="M1431.5,6272.9V6334.9"/>
<path class="e" d="M1336,6389.9V6449.9"/>
<path class="e" d="M1485,6480H1696V6276.9"/>
<path class="e" d="M1837,6271.2V6334.9"/>
<path class="e" d="M1986,6271.1V6334.9"/>
<path class="e" d="M1863,6389.9V6451.3"/>
<path class="e" d="M2339,6480H2129V6276.7"/>
<path class="e" d="M2563,6271.2V6334.9"/>
<path class="e" d="M2488,6389.9V6449.9"/>
<path class="e" d="M4158,6457.2V6297H2704V6276.9"/>
<path class="e" d="M4273,6274.4V6451.2"/>
</g>
</g>
</svg>
